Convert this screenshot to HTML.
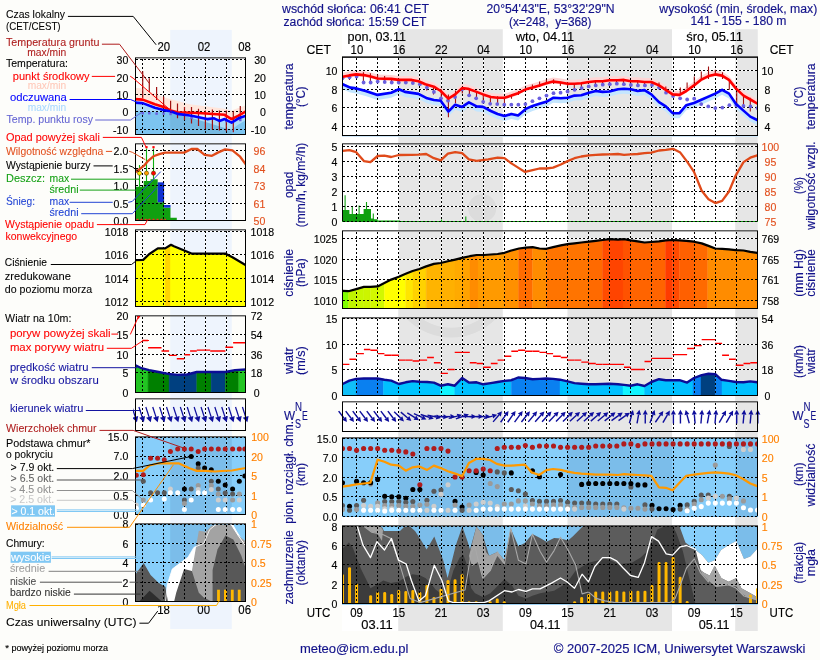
<!DOCTYPE html><html><head><meta charset="utf-8"><title>meteogram</title><style>html,body{margin:0;padding:0;background:#fdfdfa;overflow:hidden}svg{display:block}text{font-family:"Liberation Sans",sans-serif}</style></head><body>
<svg width="820" height="660" viewBox="0 0 820 660" font-family="'Liberation Sans', sans-serif">
<defs>
<clipPath id="cTemp"><rect x="342.5" y="56.5" width="415" height="79"/></clipPath>
<clipPath id="cPrec"><rect x="342.5" y="143.5" width="415" height="78"/></clipPath>
<clipPath id="cPres"><rect x="342.5" y="230.5" width="415" height="78"/></clipPath>
<clipPath id="cWind"><rect x="342.5" y="317.5" width="415" height="78"/></clipPath>
<clipPath id="cWdir"><rect x="342.5" y="401.5" width="415" height="30"/></clipPath>
<clipPath id="cVis"><rect x="342.5" y="437.5" width="415" height="79"/></clipPath>
<clipPath id="cCld"><rect x="342.5" y="525.5" width="415" height="78"/></clipPath>
<clipPath id="lTemp"><rect x="135.5" y="57.5" width="110" height="77"/></clipPath>
<clipPath id="lPrec"><rect x="135.5" y="143.5" width="110" height="77"/></clipPath>
<clipPath id="lPres"><rect x="135.5" y="229.5" width="110" height="77"/></clipPath>
<clipPath id="lWind"><rect x="135.5" y="315.5" width="110" height="77"/></clipPath>
<clipPath id="lWdir"><rect x="135.5" y="398.5" width="110" height="32"/></clipPath>
<clipPath id="lVis"><rect x="135.5" y="436.5" width="110" height="78"/></clipPath>
<clipPath id="lCld"><rect x="135.5" y="523.5" width="110" height="78"/></clipPath>
<clipPath id="lWdirW"><rect x="133" y="399" width="120" height="31"/></clipPath>
</defs>
<rect x="0" y="0" width="820" height="660" fill="#fdfdfa"/>
<rect x="342" y="29.2" width="416" height="601.8" fill="#ffffff"/>
<rect x="398.2" y="29.2" width="104.6" height="601.8" fill="#e6e6e6"/>
<rect x="567.4" y="29.2" width="104.6" height="601.8" fill="#e6e6e6"/>
<rect x="735.2" y="29.2" width="22.6" height="601.8" fill="#e6e6e6"/>
<rect x="170.2" y="29.9" width="61.6" height="599.1" fill="#eef4fd"/>
<clipPath id="wm"><rect x="398.2" y="140" width="104.6" height="290"/></clipPath>
<clipPath id="wm2"><rect x="398.2" y="318" width="104.6" height="80"/></clipPath>
<g clip-path="url(#wm)" fill="#000" opacity="0.045">
<circle cx="482.2" cy="208.2" r="14"/>
<path clip-path="url(#wm2)" d="M388.9 275.1 A62.4 62.4 0 0 0 513.7 275.1 L504 275.1 A52.7 52.7 0 0 1 398.6 275.1 Z"/>
</g>
<g clip-path="url(#cTemp)">
<path d="M356.5 57V135M377.5 57V135M398.5 57V135M419.5 57V135M441.5 57V135M462.5 57V135M483.5 57V135M504.5 57V135M525.5 57V135M546.5 57V135M567.5 57V135M588.5 57V135M609.5 57V135M630.5 57V135M651.5 57V135M673.5 57V135M694.5 57V135M715.5 57V135M736.5 57V135M343 70.5H757M343 89.5H757M343 107.5H757M343 126.5H757" stroke="#fff" stroke-width="1" fill="none" shape-rendering="crispEdges"/>
<polygon points="342.6,72.8 349.4,71.4 356.2,70.4 363.9,71.1 370.7,72.5 377.6,74.5 384.4,74.7 391.2,74.9 398.9,75.9 405.7,75.9 411.7,75.9 418.5,77.3 425.4,80.2 433.9,82.7 440.7,87 448.4,94.7 455.2,90.4 462.1,84.1 468,84.8 476.6,87.9 483.1,90.4 490.8,93 497.6,93.8 504.5,93.8 511.3,91.6 518.1,89.2 525.8,85.3 532.6,83.6 539.5,81.4 546.3,79.3 553.1,77.6 560.8,78.5 567.6,79.7 574.5,79.7 581.3,79.3 589,78 595.8,77.3 602.6,77.3 609.5,76.2 618,76.2 624,75.9 630.8,77.3 637.6,77.3 644.5,78 651.3,78 659,81.4 665.8,85.8 672.6,90.4 679.5,90.9 686.3,87 694,81.4 700.8,75.9 708.5,72.1 715.3,70.4 722.1,71.6 729,75.9 735.8,84.4 743.5,91.6 750.3,95.5 757.2,99.5 757.2,105.3 750.3,101.3 743.5,97.4 735.8,90.2 729,81.7 722.1,77.4 715.3,76.2 708.5,77.9 700.8,81.7 694,87.2 686.3,92.8 679.5,96.7 672.6,96.2 665.8,91.6 659,87.2 651.3,83.8 644.5,83.8 637.6,83.1 630.8,83.1 624,81.7 618,82 609.5,82 602.6,83.1 595.8,83.1 589,83.8 581.3,85.1 574.5,85.5 567.6,85.5 560.8,84.3 553.1,83.4 546.3,85.1 539.5,87.2 532.6,89.4 525.8,91.1 518.1,95 511.3,97.4 504.5,99.6 497.6,99.6 490.8,98.8 483.1,96.2 476.6,93.7 468,90.6 462.1,89.9 455.2,96.2 448.4,100.5 440.7,92.8 433.9,88.5 425.4,86 418.5,83.1 411.7,81.7 405.7,81.7 398.9,81.7 391.2,80.7 384.4,80.5 377.6,80.3 370.7,78.3 363.9,76.9 356.2,76.2 349.4,77.2 342.6,78.6" fill="#ffd6d6"/>
<polygon points="342.6,82.7 350.2,86.1 356.2,86.9 365.6,89.5 377.6,93.4 391.2,91.2 398.9,87.8 404.9,90.4 418.5,92.4 427.1,96.8 433.9,98.5 440.7,99.2 448.4,110 455.2,103.2 462.1,105.4 468.9,100.9 476.6,104.9 483.1,105.4 490.8,109.5 497.6,112.5 504.5,114.6 511.3,112.5 518.1,113.9 525.8,107.4 532.6,104.4 539.5,102.3 546.3,100.3 553.1,96.3 560.8,96.8 567.6,96.3 574.5,94.1 581.3,93.8 589,91.2 595.8,89.5 602.6,90.4 609.5,90 618,87.8 624,87.3 630.8,87.8 637.6,89.5 644.5,88.6 651.3,92.9 659,100.6 665.8,104.9 672.6,111.7 679.5,111.7 686.3,103.7 694,101.5 700.8,98.5 708.5,95.1 715.3,92.1 722.1,88.3 729,92.1 735.8,102.3 743.5,109.1 750.3,115.1 757.2,118.5 757.2,125 750.3,121.6 743.5,115.6 735.8,108.8 729,98.6 722.1,94.8 715.3,98.6 708.5,101.6 700.8,105 694,108 686.3,110.2 679.5,118.2 672.6,118.2 665.8,111.4 659,107.1 651.3,99.4 644.5,95.1 637.6,96 630.8,94.3 624,93.8 618,94.3 609.5,96.5 602.6,96.9 595.8,96 589,97.7 581.3,100.3 574.5,100.6 567.6,102.8 560.8,103.3 553.1,102.8 546.3,106.8 539.5,108.8 532.6,110.9 525.8,113.9 518.1,120.4 511.3,119 504.5,121.1 497.6,119 490.8,116 483.1,111.9 476.6,111.4 468.9,107.4 462.1,111.9 455.2,109.7 448.4,116.5 440.7,105.7 433.9,105 427.1,103.3 418.5,98.9 404.9,96.9 398.9,94.3 391.2,97.7 377.6,99.9 365.6,96 356.2,93.4 350.2,92.6 342.6,89.2" fill="#c4e6ff"/>
<path d="M356.5 58V135M377.5 58V135M398.5 58V135M419.5 58V135M441.5 58V135M462.5 58V135M483.5 58V135M504.5 58V135M525.5 58V135M546.5 58V135M567.5 58V135M588.5 58V135M609.5 58V135M630.5 58V135M651.5 58V135M673.5 58V135M694.5 58V135M715.5 58V135M736.5 58V135M343 70.5H757M343 89.5H757M343 107.5H757M343 126.5H757" stroke="#000" stroke-width="1" stroke-dasharray="2 2" fill="none" shape-rendering="crispEdges"/>
<line x1="349.5" y1="74.2" x2="349.5" y2="80" stroke="#a01010" stroke-width="1.1"/>
<line x1="363.4" y1="72.2" x2="363.4" y2="83" stroke="#a01010" stroke-width="1.1"/>
<line x1="370.4" y1="73.2" x2="370.4" y2="82.5" stroke="#a01010" stroke-width="1.1"/>
<line x1="377.6" y1="74.7" x2="377.6" y2="81.5" stroke="#a01010" stroke-width="1.1"/>
<line x1="384.6" y1="76.1" x2="384.6" y2="82.5" stroke="#a01010" stroke-width="1.1"/>
<line x1="391.5" y1="78.1" x2="391.5" y2="83" stroke="#a01010" stroke-width="1.1"/>
<line x1="412.7" y1="79.1" x2="412.7" y2="83" stroke="#a01010" stroke-width="1.1"/>
<line x1="426.7" y1="84.1" x2="426.7" y2="90.5" stroke="#a01010" stroke-width="1.1"/>
<line x1="433.5" y1="87.6" x2="433.5" y2="94.4" stroke="#a01010" stroke-width="1.1"/>
<line x1="441.3" y1="89.5" x2="441.3" y2="102.2" stroke="#a01010" stroke-width="1.1"/>
<line x1="448.4" y1="94.4" x2="448.4" y2="117.3" stroke="#a01010" stroke-width="1.1"/>
<line x1="455.5" y1="90.5" x2="455.5" y2="103.2" stroke="#a01010" stroke-width="1.1"/>
<line x1="462.3" y1="88.5" x2="462.3" y2="93.4" stroke="#a01010" stroke-width="1.1"/>
<line x1="469.4" y1="89.5" x2="469.4" y2="95.9" stroke="#a01010" stroke-width="1.1"/>
<line x1="476.5" y1="91.5" x2="476.5" y2="99.3" stroke="#a01010" stroke-width="1.1"/>
<line x1="483.3" y1="94.4" x2="483.3" y2="102.2" stroke="#a01010" stroke-width="1.1"/>
<line x1="490.4" y1="96.3" x2="490.4" y2="104.1" stroke="#a01010" stroke-width="1.1"/>
<line x1="497.6" y1="96.3" x2="497.6" y2="103.7" stroke="#a01010" stroke-width="1.1"/>
<line x1="504.4" y1="98.3" x2="504.4" y2="103.2" stroke="#a01010" stroke-width="1.1"/>
<line x1="511.5" y1="95.9" x2="511.5" y2="98.8" stroke="#a01010" stroke-width="1.1"/>
<line x1="518.5" y1="91" x2="518.5" y2="94.9" stroke="#a01010" stroke-width="1.1"/>
<line x1="532.4" y1="84.6" x2="532.4" y2="90" stroke="#a01010" stroke-width="1.1"/>
<line x1="539.6" y1="81.5" x2="539.6" y2="87.1" stroke="#a01010" stroke-width="1.1"/>
<line x1="546.4" y1="79.8" x2="546.4" y2="84.1" stroke="#a01010" stroke-width="1.1"/>
<line x1="553.6" y1="79.3" x2="553.6" y2="84.1" stroke="#a01010" stroke-width="1.1"/>
<line x1="560.4" y1="81.7" x2="560.4" y2="86.1" stroke="#a01010" stroke-width="1.1"/>
<line x1="567.6" y1="82.2" x2="567.6" y2="86.1" stroke="#a01010" stroke-width="1.1"/>
<line x1="574.3" y1="83" x2="574.3" y2="89.9" stroke="#a01010" stroke-width="1.1"/>
<line x1="581.4" y1="82.6" x2="581.4" y2="87.9" stroke="#a01010" stroke-width="1.1"/>
<line x1="595.4" y1="82.1" x2="595.4" y2="86" stroke="#a01010" stroke-width="1.1"/>
<line x1="602.6" y1="81.6" x2="602.6" y2="85" stroke="#a01010" stroke-width="1.1"/>
<line x1="616.5" y1="81.1" x2="616.5" y2="84.5" stroke="#a01010" stroke-width="1.1"/>
<line x1="623.5" y1="81.1" x2="623.5" y2="85" stroke="#a01010" stroke-width="1.1"/>
<line x1="637.7" y1="81.6" x2="637.7" y2="85.5" stroke="#a01010" stroke-width="1.1"/>
<line x1="644.5" y1="82.1" x2="644.5" y2="86.5" stroke="#a01010" stroke-width="1.1"/>
<line x1="659" y1="82.5" x2="659" y2="89.3" stroke="#a01010" stroke-width="1.1"/>
<line x1="665.8" y1="86.4" x2="665.8" y2="93.6" stroke="#a01010" stroke-width="1.1"/>
<line x1="680.3" y1="87.6" x2="680.3" y2="94.4" stroke="#a01010" stroke-width="1.1"/>
<line x1="687.1" y1="82.5" x2="687.1" y2="88.4" stroke="#a01010" stroke-width="1.1"/>
<line x1="694.3" y1="76.5" x2="694.3" y2="84.2" stroke="#a01010" stroke-width="1.1"/>
<line x1="701.3" y1="71.4" x2="701.3" y2="79.9" stroke="#a01010" stroke-width="1.1"/>
<line x1="708.5" y1="66.6" x2="708.5" y2="79" stroke="#a01010" stroke-width="1.1"/>
<line x1="715.3" y1="69.7" x2="715.3" y2="74.8" stroke="#a01010" stroke-width="1.1"/>
<line x1="722.5" y1="72.2" x2="722.5" y2="79" stroke="#a01010" stroke-width="1.1"/>
<line x1="729.3" y1="81.6" x2="729.3" y2="89.8" stroke="#a01010" stroke-width="1.1"/>
<line x1="736.7" y1="91.9" x2="736.7" y2="104.7" stroke="#a01010" stroke-width="1.1"/>
<line x1="743.5" y1="96.6" x2="743.5" y2="107.2" stroke="#a01010" stroke-width="1.1"/>
<line x1="750.3" y1="97.8" x2="750.3" y2="111.5" stroke="#a01010" stroke-width="1.1"/>
<circle cx="342.5" cy="78.2" r="1.9" fill="#6a5fe0"/>
<circle cx="349.53" cy="77.3" r="1.9" fill="#6a5fe0"/>
<circle cx="356.57" cy="76.5" r="1.9" fill="#6a5fe0"/>
<circle cx="363.6" cy="82.5" r="1.9" fill="#6a5fe0"/>
<circle cx="370.64" cy="82.5" r="1.9" fill="#6a5fe0"/>
<circle cx="377.67" cy="81.6" r="1.9" fill="#6a5fe0"/>
<circle cx="384.7" cy="82" r="1.9" fill="#6a5fe0"/>
<circle cx="391.74" cy="82.5" r="1.9" fill="#6a5fe0"/>
<circle cx="398.77" cy="82.5" r="1.9" fill="#6a5fe0"/>
<circle cx="405.81" cy="82.5" r="1.9" fill="#6a5fe0"/>
<circle cx="412.84" cy="83" r="1.9" fill="#6a5fe0"/>
<circle cx="419.87" cy="84.2" r="1.9" fill="#6a5fe0"/>
<circle cx="426.91" cy="87.6" r="1.9" fill="#6a5fe0"/>
<circle cx="433.94" cy="91.9" r="1.9" fill="#6a5fe0"/>
<circle cx="440.98" cy="98.3" r="1.9" fill="#6a5fe0"/>
<circle cx="448.01" cy="100.7" r="1.9" fill="#6a5fe0"/>
<circle cx="455.04" cy="97" r="1.9" fill="#6a5fe0"/>
<circle cx="462.08" cy="89.3" r="1.9" fill="#6a5fe0"/>
<circle cx="469.11" cy="95.3" r="1.9" fill="#6a5fe0"/>
<circle cx="476.15" cy="98.3" r="1.9" fill="#6a5fe0"/>
<circle cx="483.18" cy="101.8" r="1.9" fill="#6a5fe0"/>
<circle cx="490.21" cy="103.8" r="1.9" fill="#6a5fe0"/>
<circle cx="497.25" cy="104.1" r="1.9" fill="#6a5fe0"/>
<circle cx="504.28" cy="104.7" r="1.9" fill="#6a5fe0"/>
<circle cx="511.32" cy="104.7" r="1.9" fill="#6a5fe0"/>
<circle cx="518.35" cy="104.7" r="1.9" fill="#6a5fe0"/>
<circle cx="525.38" cy="104.1" r="1.9" fill="#6a5fe0"/>
<circle cx="532.42" cy="101.2" r="1.9" fill="#6a5fe0"/>
<circle cx="539.45" cy="98.3" r="1.9" fill="#6a5fe0"/>
<circle cx="546.49" cy="95.6" r="1.9" fill="#6a5fe0"/>
<circle cx="553.52" cy="93.2" r="1.9" fill="#6a5fe0"/>
<circle cx="560.55" cy="92.7" r="1.9" fill="#6a5fe0"/>
<circle cx="567.59" cy="91.5" r="1.9" fill="#6a5fe0"/>
<circle cx="574.62" cy="89.8" r="1.9" fill="#6a5fe0"/>
<circle cx="581.66" cy="88.1" r="1.9" fill="#6a5fe0"/>
<circle cx="588.69" cy="86.4" r="1.9" fill="#6a5fe0"/>
<circle cx="595.72" cy="85.4" r="1.9" fill="#6a5fe0"/>
<circle cx="602.76" cy="84.7" r="1.9" fill="#6a5fe0"/>
<circle cx="609.79" cy="84.2" r="1.9" fill="#6a5fe0"/>
<circle cx="616.83" cy="83.7" r="1.9" fill="#6a5fe0"/>
<circle cx="623.86" cy="84.2" r="1.9" fill="#6a5fe0"/>
<circle cx="630.89" cy="85" r="1.9" fill="#6a5fe0"/>
<circle cx="637.93" cy="85.4" r="1.9" fill="#6a5fe0"/>
<circle cx="644.96" cy="85.4" r="1.9" fill="#6a5fe0"/>
<circle cx="652" cy="85" r="1.9" fill="#6a5fe0"/>
<circle cx="659.03" cy="87.6" r="1.9" fill="#6a5fe0"/>
<circle cx="666.06" cy="92.7" r="1.9" fill="#6a5fe0"/>
<circle cx="673.1" cy="96.1" r="1.9" fill="#6a5fe0"/>
<circle cx="680.13" cy="98.3" r="1.9" fill="#6a5fe0"/>
<circle cx="687.17" cy="99.5" r="1.9" fill="#6a5fe0"/>
<circle cx="694.2" cy="98.7" r="1.9" fill="#6a5fe0"/>
<circle cx="701.23" cy="104.1" r="1.9" fill="#6a5fe0"/>
<circle cx="708.27" cy="106.4" r="1.9" fill="#6a5fe0"/>
<circle cx="715.3" cy="108.1" r="1.9" fill="#6a5fe0"/>
<circle cx="722.34" cy="107.6" r="1.9" fill="#6a5fe0"/>
<circle cx="729.37" cy="105.2" r="1.9" fill="#6a5fe0"/>
<circle cx="736.4" cy="105.5" r="1.9" fill="#6a5fe0"/>
<circle cx="743.44" cy="105.9" r="1.9" fill="#6a5fe0"/>
<circle cx="750.47" cy="106.4" r="1.9" fill="#6a5fe0"/>
<circle cx="757.51" cy="108.1" r="1.9" fill="#6a5fe0"/>
<polyline points="342.6,76.8 349.4,75.4 356.2,74.4 363.9,75.1 370.7,76.5 377.6,78.5 384.4,78.7 391.2,78.9 398.9,79.9 405.7,79.9 411.7,79.9 418.5,81.3 425.4,84.2 433.9,86.7 440.7,91 448.4,98.7 455.2,94.4 462.1,88.1 468,88.8 476.6,91.9 483.1,94.4 490.8,97 497.6,97.8 504.5,97.8 511.3,95.6 518.1,93.2 525.8,89.3 532.6,87.6 539.5,85.4 546.3,83.3 553.1,81.6 560.8,82.5 567.6,83.7 574.5,83.7 581.3,83.3 589,82 595.8,81.3 602.6,81.3 609.5,80.2 618,80.2 624,79.9 630.8,81.3 637.6,81.3 644.5,82 651.3,82 659,85.4 665.8,89.8 672.6,94.4 679.5,94.9 686.3,91 694,85.4 700.8,79.9 708.5,76.1 715.3,74.4 722.1,75.6 729,79.9 735.8,88.4 743.5,95.6 750.3,99.5 757.2,103.5" fill="none" stroke="#ff0000" stroke-width="2.6" stroke-linejoin="round" stroke-linecap="round"/>
<polyline points="342.6,84.2 350.2,87.6 356.2,88.4 365.6,91 377.6,94.9 391.2,92.7 398.9,89.3 404.9,91.9 418.5,93.9 427.1,98.3 433.9,100 440.7,100.7 448.4,111.5 455.2,104.7 462.1,106.9 468.9,102.4 476.6,106.4 483.1,106.9 490.8,111 497.6,114 504.5,116.1 511.3,114 518.1,115.4 525.8,108.9 532.6,105.9 539.5,103.8 546.3,101.8 553.1,97.8 560.8,98.3 567.6,97.8 574.5,95.6 581.3,95.3 589,92.7 595.8,91 602.6,91.9 609.5,91.5 618,89.3 624,88.8 630.8,89.3 637.6,91 644.5,90.1 651.3,94.4 659,102.1 665.8,106.4 672.6,113.2 679.5,113.2 686.3,105.2 694,103 700.8,100 708.5,96.6 715.3,93.6 722.1,89.8 729,93.6 735.8,103.8 743.5,110.6 750.3,116.6 757.2,120" fill="none" stroke="#0000ff" stroke-width="2.6" stroke-linejoin="round" stroke-linecap="round"/>
</g>
<g clip-path="url(#cPrec)">
<path d="M356.5 144V221M377.5 144V221M398.5 144V221M419.5 144V221M441.5 144V221M462.5 144V221M483.5 144V221M504.5 144V221M525.5 144V221M546.5 144V221M567.5 144V221M588.5 144V221M609.5 144V221M630.5 144V221M651.5 144V221M673.5 144V221M694.5 144V221M715.5 144V221M736.5 144V221M343 146.5H757M343 161.5H757M343 176.5H757M343 191.5H757M343 206.5H757" stroke="#fff" stroke-width="1" fill="none" shape-rendering="crispEdges"/>
<polygon points="342.5,221.5 342.5,210 349.4,210 349.4,214 356.6,214 356.6,214 363.6,214 363.6,208.9 371,208.9 371,218.5 373.5,218.5 373.5,219.3 377.6,219.3 377.6,220.6 400,220.6 400,221.5" fill="#10a010"/>
<line x1="345.1" y1="195.3" x2="345.1" y2="221" stroke="#10a010" stroke-width="1.1"/>
<line x1="352.3" y1="206.9" x2="352.3" y2="221" stroke="#10a010" stroke-width="1.1"/>
<line x1="359.1" y1="205.5" x2="359.1" y2="221" stroke="#10a010" stroke-width="1.1"/>
<line x1="366.5" y1="202" x2="366.5" y2="221" stroke="#10a010" stroke-width="1.1"/>
<line x1="373.3" y1="213.4" x2="373.3" y2="221" stroke="#10a010" stroke-width="1.1"/>
<line x1="465.8" y1="216.5" x2="465.8" y2="221" stroke="#10a010" stroke-width="1.1"/>
<line x1="441.5" y1="219.5" x2="441.5" y2="221" stroke="#10a010" stroke-width="1.1"/>
<path d="M356.5 145V221M377.5 145V221M398.5 145V221M419.5 145V221M441.5 145V221M462.5 145V221M483.5 145V221M504.5 145V221M525.5 145V221M546.5 145V221M567.5 145V221M588.5 145V221M609.5 145V221M630.5 145V221M651.5 145V221M673.5 145V221M694.5 145V221M715.5 145V221M736.5 145V221M343 146.5H757M343 161.5H757M343 176.5H757M343 191.5H757M343 206.5H757" stroke="#000" stroke-width="1" stroke-dasharray="2 2" fill="none" shape-rendering="crispEdges"/>
<polyline points="342.6,150.9 349.4,150.2 356.2,152.2 363.9,161.1 370.4,162.1 377.6,156 384.4,155.7 391.2,157 398.9,155 411.7,154.8 418.5,154.6 426.2,154 433.9,158.2 440.7,160.4 447.9,153.6 455.2,152.2 462.1,153.1 468.9,159.4 476.6,160.8 488.2,159.4 497.6,157.7 504.5,158.2 511.3,163.3 518.1,167.6 525,171.9 532.6,170.2 539.5,168.5 546.3,168.5 553.1,167.6 560.8,164.5 567.6,161.1 574.5,158.2 581.3,156.5 589,155.3 595.8,154.8 602.6,154.5 609.5,154.3 618,154 624,154.8 630.8,154.3 637.6,154 644.5,153.1 651.3,152.6 659,150.5 665.8,149.9 673,148.8 680.3,152.6 687.1,161.6 694,171.9 701.7,190.7 708.5,199.2 715.3,203.1 722.1,200.9 729,191.5 735.8,175.3 743.5,162.1 750.3,157.7 757.2,155.3" fill="none" stroke="#e04a1a" stroke-width="2.3" stroke-linejoin="round" stroke-linecap="round"/>
</g>
<g clip-path="url(#cPres)">
<path d="M356.5 231V308M377.5 231V308M398.5 231V308M419.5 231V308M441.5 231V308M462.5 231V308M483.5 231V308M504.5 231V308M525.5 231V308M546.5 231V308M567.5 231V308M588.5 231V308M609.5 231V308M630.5 231V308M651.5 231V308M673.5 231V308M694.5 231V308M715.5 231V308M736.5 231V308M343 238.5H757M343 259.5H757M343 279.5H757M343 300.5H757" stroke="#fff" stroke-width="1" fill="none" shape-rendering="crispEdges"/>
<polygon points="342.5,310 342.5,290.8 342.6,290.8 348.5,291.2 348.5,310" fill="#80ff00" stroke="#80ff00" stroke-width="0.4"/>
<polygon points="348.5,310 348.5,291.2 356.2,289.1 356.2,310" fill="#bff500" stroke="#bff500" stroke-width="0.4"/>
<polygon points="356.2,310 356.2,289.1 363.9,286.9 363.9,310" fill="#c8f700" stroke="#c8f700" stroke-width="0.4"/>
<polygon points="363.9,310 363.9,286.9 370.4,286.9 370.4,310" fill="#ccf500" stroke="#ccf500" stroke-width="0.4"/>
<polygon points="370.4,310 370.4,286.9 377.6,286.4 384.4,283 384.4,310" fill="#d2f800" stroke="#d2f800" stroke-width="0.4"/>
<polygon points="384.4,310 384.4,283 391.2,279.6 398.9,276.7 405.7,273.8 405.7,310" fill="#ffff00" stroke="#ffff00" stroke-width="0.4"/>
<polygon points="405.7,310 405.7,273.8 412.6,271 413,270.88 413,310" fill="#ffe600" stroke="#ffe600" stroke-width="0.4"/>
<polygon points="413,310 413,270.88 419.4,269 426.2,266.4 426.2,310" fill="#ffd200" stroke="#ffd200" stroke-width="0.4"/>
<polygon points="426.2,310 426.2,266.4 433.9,263.9 440.7,263 441,262.93 441,310" fill="#ffb400" stroke="#ffb400" stroke-width="0.4"/>
<polygon points="441,310 441,262.93 447.9,261.3 455,259.65 455,310" fill="#ffb000" stroke="#ffb000" stroke-width="0.4"/>
<polygon points="455,310 455,259.65 455.2,259.6 462,257.92 462,310" fill="#ffaa00" stroke="#ffaa00" stroke-width="0.4"/>
<polygon points="462,310 462,257.92 462.1,257.9 469.8,256.2 470,256.16 470,310" fill="#ffa200" stroke="#ffa200" stroke-width="0.4"/>
<polygon points="470,310 470,256.16 476.6,255 478,255 478,310" fill="#ff8c00" stroke="#ff8c00" stroke-width="0.4"/>
<polygon points="478,310 478,255 484,255 490.8,254.5 497.6,254 504.5,252.8 504.5,310" fill="#ff9a00" stroke="#ff9a00" stroke-width="0.4"/>
<polygon points="504.5,310 504.5,252.8 511.3,250.5 518.5,248.63 518.5,310" fill="#ff9000" stroke="#ff9000" stroke-width="0.4"/>
<polygon points="518.5,310 518.5,248.63 519,248.5 525.8,247.6 532.6,247.1 532.6,310" fill="#ff6c00" stroke="#ff6c00" stroke-width="0.4"/>
<polygon points="532.6,310 532.6,247.1 539.5,248.5 546.3,248.8 546.3,310" fill="#ff8c00" stroke="#ff8c00" stroke-width="0.4"/>
<polygon points="546.3,310 546.3,248.8 553.1,247.1 560.8,245.4 567.6,244.2 574.5,243.4 581.3,242.5 589,241.7 589,310" fill="#ff7400" stroke="#ff7400" stroke-width="0.4"/>
<polygon points="589,310 589,241.7 595.8,240.8 602.5,240.01 602.5,310" fill="#ff6a00" stroke="#ff6a00" stroke-width="0.4"/>
<polygon points="602.5,310 602.5,240.01 602.6,240 609.5,239.1 609.5,310" fill="#ff4c00" stroke="#ff4c00" stroke-width="0.4"/>
<polygon points="609.5,310 609.5,239.1 618,239.6 623,239.18 623,310" fill="#ff4400" stroke="#ff4400" stroke-width="0.4"/>
<polygon points="623,310 623,239.18 624,239.1 630.8,240.3 631,240.33 631,310" fill="#ff5200" stroke="#ff5200" stroke-width="0.4"/>
<polygon points="631,310 631,240.33 637.6,241.3 644.5,242.5 651.3,242 659,241.3 665.5,240.34 665.5,310" fill="#ff6400" stroke="#ff6400" stroke-width="0.4"/>
<polygon points="665.5,310 665.5,240.34 665.8,240.3 672.6,240 672.6,310" fill="#ff3c00" stroke="#ff3c00" stroke-width="0.4"/>
<polygon points="672.6,310 672.6,240 679.5,240.3 679.5,310" fill="#ff4a00" stroke="#ff4a00" stroke-width="0.4"/>
<polygon points="679.5,310 679.5,240.3 686.3,240.8 694,241.7 694,310" fill="#ff6000" stroke="#ff6000" stroke-width="0.4"/>
<polygon points="694,310 694,241.7 701.7,243.4 707.8,245.64 707.8,310" fill="#ff6a00" stroke="#ff6a00" stroke-width="0.4"/>
<polygon points="707.8,310 707.8,245.64 708.5,245.9 715.3,248.5 722.1,248.8 729,249.3 735.8,250.2 743.5,250.5 750.3,251.9 757.2,252.8 758,252.8 758,310" fill="#ff8c00" stroke="#ff8c00" stroke-width="0.4"/>
<path d="M356.5 232V308M377.5 232V308M398.5 232V308M419.5 232V308M441.5 232V308M462.5 232V308M483.5 232V308M504.5 232V308M525.5 232V308M546.5 232V308M567.5 232V308M588.5 232V308M609.5 232V308M630.5 232V308M651.5 232V308M673.5 232V308M694.5 232V308M715.5 232V308M736.5 232V308M343 238.5H757M343 259.5H757M343 279.5H757M343 300.5H757" stroke="#000" stroke-width="1" stroke-dasharray="2 2" fill="none" shape-rendering="crispEdges"/>
<polyline points="342.6,290.8 348.5,291.2 356.2,289.1 363.9,286.9 370.4,286.9 377.6,286.4 384.4,283 391.2,279.6 398.9,276.7 405.7,273.8 412.6,271 419.4,269 426.2,266.4 433.9,263.9 440.7,263 447.9,261.3 455.2,259.6 462.1,257.9 469.8,256.2 476.6,255 484,255 490.8,254.5 497.6,254 504.5,252.8 511.3,250.5 519,248.5 525.8,247.6 532.6,247.1 539.5,248.5 546.3,248.8 553.1,247.1 560.8,245.4 567.6,244.2 574.5,243.4 581.3,242.5 589,241.7 595.8,240.8 602.6,240 609.5,239.1 618,239.6 624,239.1 630.8,240.3 637.6,241.3 644.5,242.5 651.3,242 659,241.3 665.8,240.3 672.6,240 679.5,240.3 686.3,240.8 694,241.7 701.7,243.4 708.5,245.9 715.3,248.5 722.1,248.8 729,249.3 735.8,250.2 743.5,250.5 750.3,251.9 757.2,252.8" fill="none" stroke="#000" stroke-width="2.2" stroke-linejoin="round" stroke-linecap="round"/>
</g>
<g clip-path="url(#cWind)">
<path d="M356.5 318V395M377.5 318V395M398.5 318V395M419.5 318V395M441.5 318V395M462.5 318V395M483.5 318V395M504.5 318V395M525.5 318V395M546.5 318V395M567.5 318V395M588.5 318V395M609.5 318V395M630.5 318V395M651.5 318V395M673.5 318V395M694.5 318V395M715.5 318V395M736.5 318V395M343 318.5H757M343 344.5H757M343 369.5H757" stroke="#fff" stroke-width="1" fill="none" shape-rendering="crispEdges"/>
<polygon points="342.5,397 342.5,384 342.6,384 349.4,380.6 356.2,378.9 356.4,378.89 356.4,397" fill="#10bff8" stroke="#10bff8" stroke-width="0.4"/>
<polygon points="356.4,397 356.4,378.89 363.9,378.5 370.7,378.5 377.6,378.5 383.5,379.54 383.5,397" fill="#0a80f0" stroke="#0a80f0" stroke-width="0.4"/>
<polygon points="383.5,397 383.5,379.54 384.4,379.7 391.2,380.6 398.9,384 399,383.98 399,397" fill="#00c0ff" stroke="#00c0ff" stroke-width="0.4"/>
<polygon points="399,397 399,383.98 405.7,382.3 412.6,381.1 419.4,381.8 427.1,382 433.9,382.6 440.7,385.7 440.7,397" fill="#00c4ff" stroke="#00c4ff" stroke-width="0.4"/>
<polygon points="440.7,397 440.7,385.7 447.9,384.3 454.7,385.7 454.7,397" fill="#10f4ff" stroke="#10f4ff" stroke-width="0.4"/>
<polygon points="454.7,397 454.7,385.7 462.1,378 468.9,382.6 476.6,382.3 483.1,384.3 490.8,383.1 497.6,382 504.5,380.9 511.3,380.2 511.3,397" fill="#00c0ff" stroke="#00c0ff" stroke-width="0.4"/>
<polygon points="511.3,397 511.3,380.2 518.1,377.5 525,378 532.6,379.2 539.5,378.9 546.3,378.5 553.1,378.9 560,379.7 560,397" fill="#0a80f0" stroke="#0a80f0" stroke-width="0.4"/>
<polygon points="560,397 560,379.7 567.6,381.4 574.5,383.1 581.3,383.7 589,384.3 595.8,384.3 602.6,384 609.5,383.7 618,384.3 623,384.8 623,397" fill="#00c0ff" stroke="#00c0ff" stroke-width="0.4"/>
<polygon points="623,397 623,384.8 624,384.9 630.8,385.7 637.6,384.3 644.5,386 644.5,397" fill="#10f4ff" stroke="#10f4ff" stroke-width="0.4"/>
<polygon points="644.5,397 644.5,386 651.3,382 659,379.2 665.8,380.2 672.6,380.2 679.5,380.2 687.1,382.6 693,378.67 693,397" fill="#00c0ff" stroke="#00c0ff" stroke-width="0.4"/>
<polygon points="693,397 693,378.67 694,378 701,375.36 701,397" fill="#0a80f0" stroke="#0a80f0" stroke-width="0.4"/>
<polygon points="701,397 701,375.36 701.7,375.1 708.5,373.8 715.3,374.1 715.3,397" fill="#004080" stroke="#004080" stroke-width="0.4"/>
<polygon points="715.3,397 715.3,374.1 721.3,379.7 722,379.81 722,397" fill="#0a80f0" stroke="#0a80f0" stroke-width="0.4"/>
<polygon points="722,397 722,379.81 729,380.9 735.8,382 743.5,382.3 750.3,381.4 757.2,382.3 758,382.3 758,397" fill="#00c0ff" stroke="#00c0ff" stroke-width="0.4"/>
<path d="M356.5 319V395M377.5 319V395M398.5 319V395M419.5 319V395M441.5 319V395M462.5 319V395M483.5 319V395M504.5 319V395M525.5 319V395M546.5 319V395M567.5 319V395M588.5 319V395M609.5 319V395M630.5 319V395M651.5 319V395M673.5 319V395M694.5 319V395M715.5 319V395M736.5 319V395M343 318.5H757M343 344.5H757M343 369.5H757" stroke="#000" stroke-width="1" stroke-dasharray="2 2" fill="none" shape-rendering="crispEdges"/>
<line x1="342.5" y1="364.4" x2="349.4" y2="364.4" stroke="#ff0000" stroke-width="1.4"/>
<line x1="349.4" y1="359.2" x2="356.2" y2="359.2" stroke="#ff0000" stroke-width="1.4"/>
<line x1="356.2" y1="353.6" x2="363.9" y2="353.6" stroke="#ff0000" stroke-width="1.4"/>
<line x1="363.9" y1="349.5" x2="370.4" y2="349.5" stroke="#ff0000" stroke-width="1.4"/>
<line x1="370.4" y1="350.2" x2="377.6" y2="350.2" stroke="#ff0000" stroke-width="1.4"/>
<line x1="377.6" y1="353.6" x2="384.4" y2="353.6" stroke="#ff0000" stroke-width="1.4"/>
<line x1="384.4" y1="355.3" x2="391.2" y2="355.3" stroke="#ff0000" stroke-width="1.4"/>
<line x1="391.2" y1="355.3" x2="398.9" y2="355.3" stroke="#ff0000" stroke-width="1.4"/>
<line x1="398.9" y1="360.1" x2="405.7" y2="360.1" stroke="#ff0000" stroke-width="1.4"/>
<line x1="405.7" y1="360.1" x2="412.6" y2="360.1" stroke="#ff0000" stroke-width="1.4"/>
<line x1="412.6" y1="361" x2="419.4" y2="361" stroke="#ff0000" stroke-width="1.4"/>
<line x1="419.4" y1="360.1" x2="427.1" y2="360.1" stroke="#ff0000" stroke-width="1.4"/>
<line x1="427.1" y1="357.5" x2="433.9" y2="357.5" stroke="#ff0000" stroke-width="1.4"/>
<line x1="433.9" y1="362.7" x2="440.7" y2="362.7" stroke="#ff0000" stroke-width="1.4"/>
<line x1="440.7" y1="373.4" x2="447.9" y2="373.4" stroke="#ff0000" stroke-width="1.4"/>
<line x1="447.9" y1="369.5" x2="454.7" y2="369.5" stroke="#ff0000" stroke-width="1.4"/>
<line x1="454.7" y1="352.4" x2="462.1" y2="352.4" stroke="#ff0000" stroke-width="1.4"/>
<line x1="462.1" y1="352.4" x2="469.8" y2="352.4" stroke="#ff0000" stroke-width="1.4"/>
<line x1="469.8" y1="362.7" x2="476.6" y2="362.7" stroke="#ff0000" stroke-width="1.4"/>
<line x1="476.6" y1="363.5" x2="483.1" y2="363.5" stroke="#ff0000" stroke-width="1.4"/>
<line x1="483.1" y1="367.3" x2="490.8" y2="367.3" stroke="#ff0000" stroke-width="1.4"/>
<line x1="490.8" y1="363.5" x2="497.6" y2="363.5" stroke="#ff0000" stroke-width="1.4"/>
<line x1="497.6" y1="360.1" x2="504.5" y2="360.1" stroke="#ff0000" stroke-width="1.4"/>
<line x1="504.5" y1="356.3" x2="511.3" y2="356.3" stroke="#ff0000" stroke-width="1.4"/>
<line x1="511.3" y1="351.2" x2="518.1" y2="351.2" stroke="#ff0000" stroke-width="1.4"/>
<line x1="518.1" y1="350.2" x2="525" y2="350.2" stroke="#ff0000" stroke-width="1.4"/>
<line x1="525" y1="351.2" x2="532.6" y2="351.2" stroke="#ff0000" stroke-width="1.4"/>
<line x1="532.6" y1="351.2" x2="539.5" y2="351.2" stroke="#ff0000" stroke-width="1.4"/>
<line x1="539.5" y1="352.4" x2="546.3" y2="352.4" stroke="#ff0000" stroke-width="1.4"/>
<line x1="546.3" y1="353.6" x2="553.1" y2="353.6" stroke="#ff0000" stroke-width="1.4"/>
<line x1="553.1" y1="356.3" x2="560.8" y2="356.3" stroke="#ff0000" stroke-width="1.4"/>
<line x1="560.8" y1="357.5" x2="567.6" y2="357.5" stroke="#ff0000" stroke-width="1.4"/>
<line x1="567.6" y1="360.1" x2="574.5" y2="360.1" stroke="#ff0000" stroke-width="1.4"/>
<line x1="574.5" y1="360.1" x2="581.3" y2="360.1" stroke="#ff0000" stroke-width="1.4"/>
<line x1="581.3" y1="362.1" x2="589" y2="362.1" stroke="#ff0000" stroke-width="1.4"/>
<line x1="589" y1="363.5" x2="595.8" y2="363.5" stroke="#ff0000" stroke-width="1.4"/>
<line x1="595.8" y1="364.4" x2="602.6" y2="364.4" stroke="#ff0000" stroke-width="1.4"/>
<line x1="602.6" y1="364.4" x2="609.5" y2="364.4" stroke="#ff0000" stroke-width="1.4"/>
<line x1="609.5" y1="364.4" x2="618" y2="364.4" stroke="#ff0000" stroke-width="1.4"/>
<line x1="618" y1="364.4" x2="624" y2="364.4" stroke="#ff0000" stroke-width="1.4"/>
<line x1="624" y1="367.3" x2="630.8" y2="367.3" stroke="#ff0000" stroke-width="1.4"/>
<line x1="630.8" y1="369.5" x2="644.5" y2="369.5" stroke="#ff0000" stroke-width="1.4"/>
<line x1="644.5" y1="361.5" x2="651.3" y2="361.5" stroke="#ff0000" stroke-width="1.4"/>
<line x1="651.3" y1="358.4" x2="672.6" y2="358.4" stroke="#ff0000" stroke-width="1.4"/>
<line x1="672.6" y1="354.6" x2="687.1" y2="354.6" stroke="#ff0000" stroke-width="1.4"/>
<line x1="687.1" y1="348.5" x2="694" y2="348.5" stroke="#ff0000" stroke-width="1.4"/>
<line x1="694" y1="345.6" x2="701.7" y2="345.6" stroke="#ff0000" stroke-width="1.4"/>
<line x1="701.7" y1="339.6" x2="715.3" y2="339.6" stroke="#ff0000" stroke-width="1.4"/>
<line x1="715.3" y1="343.4" x2="722.1" y2="343.4" stroke="#ff0000" stroke-width="1.4"/>
<line x1="722.1" y1="355.3" x2="729" y2="355.3" stroke="#ff0000" stroke-width="1.4"/>
<line x1="729" y1="359.2" x2="735.8" y2="359.2" stroke="#ff0000" stroke-width="1.4"/>
<line x1="735.8" y1="365.2" x2="743.5" y2="365.2" stroke="#ff0000" stroke-width="1.4"/>
<line x1="743.5" y1="363.5" x2="750.3" y2="363.5" stroke="#ff0000" stroke-width="1.4"/>
<line x1="750.3" y1="362.7" x2="757.5" y2="362.7" stroke="#ff0000" stroke-width="1.4"/>
<polyline points="342.6,384 349.4,380.6 356.2,378.9 363.9,378.5 370.7,378.5 377.6,378.5 384.4,379.7 391.2,380.6 398.9,384 405.7,382.3 412.6,381.1 419.4,381.8 427.1,382 433.9,382.6 440.7,385.7 447.9,384.3 454.7,385.7 462.1,378 468.9,382.6 476.6,382.3 483.1,384.3 490.8,383.1 497.6,382 504.5,380.9 511.3,380.2 518.1,377.5 525,378 532.6,379.2 539.5,378.9 546.3,378.5 553.1,378.9 560,379.7 567.6,381.4 574.5,383.1 581.3,383.7 589,384.3 595.8,384.3 602.6,384 609.5,383.7 618,384.3 624,384.9 630.8,385.7 637.6,384.3 644.5,386 651.3,382 659,379.2 665.8,380.2 672.6,380.2 679.5,380.2 687.1,382.6 694,378 701.7,375.1 708.5,373.8 715.3,374.1 721.3,379.7 729,380.9 735.8,382 743.5,382.3 750.3,381.4 757.2,382.3" fill="none" stroke="#0c0c96" stroke-width="2.4" stroke-linejoin="round" stroke-linecap="round"/>
</g>
<g clip-path="url(#cWdir)">
<path d="M356.5 402V431M377.5 402V431M398.5 402V431M419.5 402V431M441.5 402V431M462.5 402V431M483.5 402V431M504.5 402V431M525.5 402V431M546.5 402V431M567.5 402V431M588.5 402V431M609.5 402V431M630.5 402V431M651.5 402V431M673.5 402V431M694.5 402V431M715.5 402V431M736.5 402V431" stroke="#fff" stroke-width="1" fill="none" shape-rendering="crispEdges"/>
<path d="M356.5 403V431M377.5 403V431M398.5 403V431M419.5 403V431M441.5 403V431M462.5 403V431M483.5 403V431M504.5 403V431M525.5 403V431M546.5 403V431M567.5 403V431M588.5 403V431M609.5 403V431M630.5 403V431M651.5 403V431M673.5 403V431M694.5 403V431M715.5 403V431M736.5 403V431" stroke="#000" stroke-width="1" stroke-dasharray="2 2" fill="none" shape-rendering="crispEdges"/>
</g>
<line x1="338.65" y1="411.09" x2="344.06" y2="418.28" stroke="#0e0e9c" stroke-width="1.4"/>
<polygon points="346.95,422.11 342.07,419.78 346.06,416.77" fill="#0e0e9c"/>
<line x1="345.68" y1="411.09" x2="351.1" y2="418.28" stroke="#0e0e9c" stroke-width="1.4"/>
<polygon points="353.99,422.11 349.1,419.78 353.09,416.77" fill="#0e0e9c"/>
<line x1="352.72" y1="411.09" x2="358.13" y2="418.28" stroke="#0e0e9c" stroke-width="1.4"/>
<polygon points="361.02,422.11 356.14,419.78 360.13,416.77" fill="#0e0e9c"/>
<line x1="359.75" y1="411.09" x2="365.17" y2="418.28" stroke="#0e0e9c" stroke-width="1.4"/>
<polygon points="368.05,422.11 363.17,419.78 367.16,416.77" fill="#0e0e9c"/>
<line x1="366.78" y1="411.09" x2="372.2" y2="418.28" stroke="#0e0e9c" stroke-width="1.4"/>
<polygon points="375.09,422.11 370.2,419.78 374.2,416.77" fill="#0e0e9c"/>
<line x1="373.82" y1="411.09" x2="379.23" y2="418.28" stroke="#0e0e9c" stroke-width="1.4"/>
<polygon points="382.12,422.11 377.24,419.78 381.23,416.77" fill="#0e0e9c"/>
<line x1="380.85" y1="411.09" x2="386.27" y2="418.28" stroke="#0e0e9c" stroke-width="1.4"/>
<polygon points="389.16,422.11 384.27,419.78 388.26,416.77" fill="#0e0e9c"/>
<line x1="387.89" y1="411.09" x2="393.3" y2="418.28" stroke="#0e0e9c" stroke-width="1.4"/>
<polygon points="396.19,422.11 391.31,419.78 395.3,416.77" fill="#0e0e9c"/>
<line x1="394.19" y1="411.72" x2="400.56" y2="418.08" stroke="#0e0e9c" stroke-width="1.4"/>
<polygon points="403.95,421.48 398.79,419.85 402.32,416.32" fill="#0e0e9c"/>
<line x1="400.82" y1="412.16" x2="407.71" y2="417.95" stroke="#0e0e9c" stroke-width="1.4"/>
<polygon points="411.39,421.04 406.11,419.86 409.32,416.03" fill="#0e0e9c"/>
<line x1="407.29" y1="412.94" x2="414.92" y2="417.71" stroke="#0e0e9c" stroke-width="1.4"/>
<polygon points="418.99,420.26 413.6,419.83 416.25,415.59" fill="#0e0e9c"/>
<line x1="413.92" y1="413.68" x2="422.08" y2="417.49" stroke="#0e0e9c" stroke-width="1.4"/>
<polygon points="426.43,419.52 421.02,419.75 423.13,415.22" fill="#0e0e9c"/>
<line x1="420.65" y1="414.47" x2="429.21" y2="417.25" stroke="#0e0e9c" stroke-width="1.4"/>
<polygon points="433.77,418.73 428.43,419.63 429.98,414.87" fill="#0e0e9c"/>
<line x1="427.49" y1="415.17" x2="436.3" y2="417.04" stroke="#0e0e9c" stroke-width="1.4"/>
<polygon points="440.99,418.03 435.78,419.48 436.82,414.59" fill="#0e0e9c"/>
<line x1="434.41" y1="415.88" x2="443.36" y2="416.82" stroke="#0e0e9c" stroke-width="1.4"/>
<polygon points="448.14,417.32 443.1,419.31 443.63,414.33" fill="#0e0e9c"/>
<line x1="441.41" y1="416.6" x2="450.41" y2="416.6" stroke="#0e0e9c" stroke-width="1.4"/>
<polygon points="455.21,416.6 450.41,419.1 450.41,414.1" fill="#0e0e9c"/>
<line x1="448.68" y1="418.39" x2="457.37" y2="416.06" stroke="#0e0e9c" stroke-width="1.4"/>
<polygon points="462.01,414.81 458.02,418.47 456.73,413.64" fill="#0e0e9c"/>
<line x1="455.89" y1="418.96" x2="464.35" y2="415.88" stroke="#0e0e9c" stroke-width="1.4"/>
<polygon points="468.86,414.24 465.21,418.23 463.5,413.53" fill="#0e0e9c"/>
<line x1="462.51" y1="416.6" x2="471.51" y2="416.6" stroke="#0e0e9c" stroke-width="1.4"/>
<polygon points="476.31,416.6 471.51,419.1 471.51,414.1" fill="#0e0e9c"/>
<line x1="469.55" y1="416.6" x2="478.55" y2="416.6" stroke="#0e0e9c" stroke-width="1.4"/>
<polygon points="483.35,416.6 478.55,419.1 478.55,414.1" fill="#0e0e9c"/>
<line x1="476.58" y1="416.6" x2="485.58" y2="416.6" stroke="#0e0e9c" stroke-width="1.4"/>
<polygon points="490.38,416.6 485.58,419.1 485.58,414.1" fill="#0e0e9c"/>
<line x1="483.85" y1="418.39" x2="492.54" y2="416.06" stroke="#0e0e9c" stroke-width="1.4"/>
<polygon points="497.18,414.81 493.19,418.47 491.9,413.64" fill="#0e0e9c"/>
<line x1="493.11" y1="421.89" x2="498.9" y2="414.99" stroke="#0e0e9c" stroke-width="1.4"/>
<polygon points="501.98,411.31 500.81,416.6 496.98,413.38" fill="#0e0e9c"/>
<line x1="500.62" y1="422.25" x2="505.79" y2="414.88" stroke="#0e0e9c" stroke-width="1.4"/>
<polygon points="508.54,410.95 507.83,416.31 503.74,413.45" fill="#0e0e9c"/>
<line x1="507.66" y1="422.25" x2="512.82" y2="414.88" stroke="#0e0e9c" stroke-width="1.4"/>
<polygon points="515.57,410.95 514.87,416.31 510.77,413.45" fill="#0e0e9c"/>
<line x1="514.59" y1="422.18" x2="519.88" y2="414.9" stroke="#0e0e9c" stroke-width="1.4"/>
<polygon points="522.71,411.02 521.91,416.37 517.86,413.43" fill="#0e0e9c"/>
<line x1="521.44" y1="422.04" x2="526.98" y2="414.95" stroke="#0e0e9c" stroke-width="1.4"/>
<polygon points="529.93,411.16 528.95,416.48 525.01,413.41" fill="#0e0e9c"/>
<line x1="528.28" y1="421.89" x2="534.07" y2="414.99" stroke="#0e0e9c" stroke-width="1.4"/>
<polygon points="537.15,411.31 535.98,416.6 532.15,413.38" fill="#0e0e9c"/>
<line x1="535.13" y1="421.73" x2="541.16" y2="415.04" stroke="#0e0e9c" stroke-width="1.4"/>
<polygon points="544.37,411.47 543.02,416.71 539.3,413.37" fill="#0e0e9c"/>
<line x1="542.08" y1="421.65" x2="548.22" y2="415.06" stroke="#0e0e9c" stroke-width="1.4"/>
<polygon points="551.49,411.55 550.05,416.77 546.39,413.36" fill="#0e0e9c"/>
<line x1="549.03" y1="421.56" x2="555.28" y2="415.09" stroke="#0e0e9c" stroke-width="1.4"/>
<polygon points="558.61,411.64 557.08,416.83 553.48,413.35" fill="#0e0e9c"/>
<line x1="555.97" y1="421.48" x2="562.34" y2="415.12" stroke="#0e0e9c" stroke-width="1.4"/>
<polygon points="565.73,411.72 564.11,416.88 560.57,413.35" fill="#0e0e9c"/>
<line x1="562.92" y1="421.39" x2="569.4" y2="415.14" stroke="#0e0e9c" stroke-width="1.4"/>
<polygon points="572.85,411.81 571.14,416.94 567.66,413.34" fill="#0e0e9c"/>
<line x1="569.88" y1="421.31" x2="576.46" y2="415.17" stroke="#0e0e9c" stroke-width="1.4"/>
<polygon points="579.97,411.89 578.16,417 574.75,413.34" fill="#0e0e9c"/>
<line x1="576.83" y1="421.22" x2="583.52" y2="415.19" stroke="#0e0e9c" stroke-width="1.4"/>
<polygon points="587.08,411.98 585.19,417.05 581.84,413.34" fill="#0e0e9c"/>
<line x1="583.86" y1="421.22" x2="590.55" y2="415.19" stroke="#0e0e9c" stroke-width="1.4"/>
<polygon points="594.12,411.98 592.22,417.05 588.88,413.34" fill="#0e0e9c"/>
<line x1="590.82" y1="421.13" x2="597.61" y2="415.22" stroke="#0e0e9c" stroke-width="1.4"/>
<polygon points="601.23,412.07 599.25,417.11 595.97,413.34" fill="#0e0e9c"/>
<line x1="597.77" y1="421.04" x2="604.67" y2="415.25" stroke="#0e0e9c" stroke-width="1.4"/>
<polygon points="608.34,412.16 606.27,417.17 603.06,413.34" fill="#0e0e9c"/>
<line x1="604.65" y1="420.85" x2="611.75" y2="415.31" stroke="#0e0e9c" stroke-width="1.4"/>
<polygon points="615.53,412.35 613.29,417.28 610.21,413.34" fill="#0e0e9c"/>
<line x1="611.54" y1="420.66" x2="618.82" y2="415.37" stroke="#0e0e9c" stroke-width="1.4"/>
<polygon points="622.71,412.54 620.29,417.39 617.36,413.34" fill="#0e0e9c"/>
<line x1="618.51" y1="420.56" x2="625.88" y2="415.4" stroke="#0e0e9c" stroke-width="1.4"/>
<polygon points="629.81,412.64 627.31,417.44 624.45,413.35" fill="#0e0e9c"/>
<line x1="629.41" y1="423.26" x2="631.74" y2="414.57" stroke="#0e0e9c" stroke-width="1.4"/>
<polygon points="632.98,409.94 634.15,415.22 629.32,413.92" fill="#0e0e9c"/>
<line x1="637.03" y1="423.4" x2="638.59" y2="414.53" stroke="#0e0e9c" stroke-width="1.4"/>
<polygon points="639.43,409.8 641.05,414.97 636.13,414.1" fill="#0e0e9c"/>
<line x1="645.26" y1="423.5" x2="645.26" y2="414.5" stroke="#0e0e9c" stroke-width="1.4"/>
<polygon points="645.26,409.7 647.76,414.5 642.76,414.5" fill="#0e0e9c"/>
<line x1="649.94" y1="423.08" x2="653.01" y2="414.63" stroke="#0e0e9c" stroke-width="1.4"/>
<polygon points="654.66,410.12 655.36,415.48 650.67,413.77" fill="#0e0e9c"/>
<line x1="655.37" y1="422.25" x2="660.53" y2="414.88" stroke="#0e0e9c" stroke-width="1.4"/>
<polygon points="663.29,410.95 662.58,416.31 658.49,413.45" fill="#0e0e9c"/>
<line x1="662.91" y1="422.58" x2="667.41" y2="414.78" stroke="#0e0e9c" stroke-width="1.4"/>
<polygon points="669.81,410.62 669.58,416.03 665.25,413.53" fill="#0e0e9c"/>
<line x1="673.4" y1="423.5" x2="673.4" y2="414.5" stroke="#0e0e9c" stroke-width="1.4"/>
<polygon points="673.4,409.7 675.9,414.5 670.9,414.5" fill="#0e0e9c"/>
<line x1="680.43" y1="423.5" x2="680.43" y2="414.5" stroke="#0e0e9c" stroke-width="1.4"/>
<polygon points="680.43,409.7 682.93,414.5 677.93,414.5" fill="#0e0e9c"/>
<line x1="689.25" y1="423.26" x2="686.92" y2="414.57" stroke="#0e0e9c" stroke-width="1.4"/>
<polygon points="685.68,409.94 689.34,413.92 684.51,415.22" fill="#0e0e9c"/>
<line x1="695.1" y1="423.47" x2="694.32" y2="414.51" stroke="#0e0e9c" stroke-width="1.4"/>
<polygon points="693.9,409.73 696.81,414.29 691.83,414.73" fill="#0e0e9c"/>
<line x1="700.93" y1="423.47" x2="701.72" y2="414.51" stroke="#0e0e9c" stroke-width="1.4"/>
<polygon points="702.14,409.73 704.21,414.73 699.23,414.29" fill="#0e0e9c"/>
<line x1="707.37" y1="423.4" x2="708.93" y2="414.53" stroke="#0e0e9c" stroke-width="1.4"/>
<polygon points="709.77,409.8 711.39,414.97 706.47,414.1" fill="#0e0e9c"/>
<line x1="715" y1="423.47" x2="715.79" y2="414.51" stroke="#0e0e9c" stroke-width="1.4"/>
<polygon points="716.2,409.73 718.28,414.73 713.29,414.29" fill="#0e0e9c"/>
<line x1="719.19" y1="422.58" x2="723.69" y2="414.78" stroke="#0e0e9c" stroke-width="1.4"/>
<polygon points="726.09,410.62 725.85,416.03 721.52,413.53" fill="#0e0e9c"/>
<line x1="726.22" y1="422.58" x2="730.72" y2="414.78" stroke="#0e0e9c" stroke-width="1.4"/>
<polygon points="733.12,410.62 732.89,416.03 728.55,413.53" fill="#0e0e9c"/>
<line x1="736.7" y1="423.5" x2="736.7" y2="414.5" stroke="#0e0e9c" stroke-width="1.4"/>
<polygon points="736.7,409.7 739.2,414.5 734.2,414.5" fill="#0e0e9c"/>
<line x1="743.14" y1="423.47" x2="743.92" y2="414.51" stroke="#0e0e9c" stroke-width="1.4"/>
<polygon points="744.34,409.73 746.41,414.73 741.43,414.29" fill="#0e0e9c"/>
<line x1="750.17" y1="423.47" x2="750.96" y2="414.51" stroke="#0e0e9c" stroke-width="1.4"/>
<polygon points="751.37,409.73 753.45,414.73 748.46,414.29" fill="#0e0e9c"/>
<line x1="757.81" y1="423.5" x2="757.81" y2="414.5" stroke="#0e0e9c" stroke-width="1.4"/>
<polygon points="757.81,409.7 760.31,414.5 755.31,414.5" fill="#0e0e9c"/>
<g clip-path="url(#cVis)">
<rect x="342.5" y="437.5" width="415" height="79" fill="#87cefa"/>
<rect x="398.2" y="437.5" width="104.6" height="79" fill="#7bbdea"/>
<rect x="567.4" y="437.5" width="104.6" height="79" fill="#7bbdea"/>
<rect x="735.2" y="437.5" width="22.6" height="79" fill="#7bbdea"/>
<path d="M356.5 438V516M377.5 438V516M398.5 438V516M419.5 438V516M441.5 438V516M462.5 438V516M483.5 438V516M504.5 438V516M525.5 438V516M546.5 438V516M567.5 438V516M588.5 438V516M609.5 438V516M630.5 438V516M651.5 438V516M673.5 438V516M694.5 438V516M715.5 438V516M736.5 438V516M343 438.5H757M343 457.5H757M343 477.5H757M343 496.5H757" stroke="#87cefa" stroke-width="1" fill="none" shape-rendering="crispEdges"/>
<path d="M356.5 439V516M377.5 439V516M398.5 439V516M419.5 439V516M441.5 439V516M462.5 439V516M483.5 439V516M504.5 439V516M525.5 439V516M546.5 439V516M567.5 439V516M588.5 439V516M609.5 439V516M630.5 439V516M651.5 439V516M673.5 439V516M694.5 439V516M715.5 439V516M736.5 439V516M343 438.5H757M343 457.5H757M343 477.5H757M343 496.5H757" stroke="#000" stroke-width="1" stroke-dasharray="2 2" fill="none" shape-rendering="crispEdges"/>
<circle cx="342.5" cy="482.8" r="2.55" fill="#000000"/>
<circle cx="342.5" cy="505.6" r="2.55" fill="#5a5a5a"/>
<circle cx="342.5" cy="509.6" r="2.55" fill="#9a9a9a"/>
<circle cx="349.53" cy="506.2" r="2.55" fill="#000000"/>
<circle cx="349.53" cy="510.3" r="2.55" fill="#5a5a5a"/>
<circle cx="356.57" cy="481.4" r="2.55" fill="#000000"/>
<circle cx="356.57" cy="505.6" r="2.55" fill="#5a5a5a"/>
<circle cx="356.57" cy="509.6" r="2.55" fill="#9a9a9a"/>
<circle cx="363.6" cy="482.8" r="2.55" fill="#000000"/>
<circle cx="363.6" cy="500.2" r="2.55" fill="#5a5a5a"/>
<circle cx="363.6" cy="505.6" r="2.55" fill="#cdcdcd"/>
<circle cx="363.6" cy="510.3" r="2.55" fill="#ffffff"/>
<circle cx="370.64" cy="484.1" r="2.55" fill="#9a9a9a"/>
<circle cx="370.64" cy="482.8" r="2.55" fill="#000000"/>
<circle cx="370.64" cy="506.2" r="2.55" fill="#cdcdcd"/>
<circle cx="370.64" cy="510.3" r="2.55" fill="#ffffff"/>
<circle cx="377.67" cy="479.4" r="2.55" fill="#000000"/>
<circle cx="377.67" cy="502.9" r="2.55" fill="#9a9a9a"/>
<circle cx="377.67" cy="506.2" r="2.55" fill="#cdcdcd"/>
<circle cx="377.67" cy="510.3" r="2.55" fill="#ffffff"/>
<circle cx="384.7" cy="496.2" r="2.55" fill="#000000"/>
<circle cx="384.7" cy="501.5" r="2.55" fill="#5a5a5a"/>
<circle cx="384.7" cy="505.6" r="2.55" fill="#9a9a9a"/>
<circle cx="384.7" cy="508.9" r="2.55" fill="#cdcdcd"/>
<circle cx="384.7" cy="511" r="2.55" fill="#ffffff"/>
<circle cx="391.74" cy="496.8" r="2.55" fill="#000000"/>
<circle cx="391.74" cy="501.5" r="2.55" fill="#5a5a5a"/>
<circle cx="391.74" cy="505.6" r="2.55" fill="#9a9a9a"/>
<circle cx="391.74" cy="508.9" r="2.55" fill="#cdcdcd"/>
<circle cx="391.74" cy="510.3" r="2.55" fill="#ffffff"/>
<circle cx="398.77" cy="496.8" r="2.55" fill="#000000"/>
<circle cx="398.77" cy="501.5" r="2.55" fill="#5a5a5a"/>
<circle cx="398.77" cy="505.6" r="2.55" fill="#9a9a9a"/>
<circle cx="398.77" cy="510.3" r="2.55" fill="#ffffff"/>
<circle cx="405.81" cy="498.2" r="2.55" fill="#000000"/>
<circle cx="405.81" cy="502.2" r="2.55" fill="#5a5a5a"/>
<circle cx="405.81" cy="506.2" r="2.55" fill="#9a9a9a"/>
<circle cx="405.81" cy="510.3" r="2.55" fill="#ffffff"/>
<circle cx="412.84" cy="489.5" r="2.55" fill="#000000"/>
<circle cx="412.84" cy="501.5" r="2.55" fill="#5a5a5a"/>
<circle cx="412.84" cy="506.2" r="2.55" fill="#9a9a9a"/>
<circle cx="412.84" cy="510.3" r="2.55" fill="#ffffff"/>
<circle cx="419.87" cy="484.8" r="2.55" fill="#b01c1c"/>
<circle cx="419.87" cy="489.5" r="2.55" fill="#000000"/>
<circle cx="419.87" cy="505" r="2.55" fill="#9a9a9a"/>
<circle cx="419.87" cy="510.3" r="2.55" fill="#ffffff"/>
<circle cx="426.91" cy="500.2" r="2.55" fill="#5a5a5a"/>
<circle cx="426.91" cy="504.2" r="2.55" fill="#9a9a9a"/>
<circle cx="426.91" cy="510.3" r="2.55" fill="#cdcdcd"/>
<circle cx="433.94" cy="491.2" r="2.55" fill="#5a5a5a"/>
<circle cx="433.94" cy="506.2" r="2.55" fill="#cdcdcd"/>
<circle cx="433.94" cy="510.3" r="2.55" fill="#ffffff"/>
<circle cx="440.98" cy="490.1" r="2.55" fill="#5a5a5a"/>
<circle cx="440.98" cy="494.2" r="2.55" fill="#cdcdcd"/>
<circle cx="440.98" cy="510.3" r="2.55" fill="#ffffff"/>
<circle cx="448.01" cy="484.8" r="2.55" fill="#cdcdcd"/>
<circle cx="448.01" cy="510.3" r="2.55" fill="#cdcdcd"/>
<circle cx="455.04" cy="501.4" r="2.55" fill="#000000"/>
<circle cx="455.04" cy="505" r="2.55" fill="#9a9a9a"/>
<circle cx="455.04" cy="510.3" r="2.55" fill="#ffffff"/>
<circle cx="462.08" cy="507.1" r="2.55" fill="#000000"/>
<circle cx="462.08" cy="510.3" r="2.55" fill="#5a5a5a"/>
<circle cx="469.11" cy="505" r="2.55" fill="#9a9a9a"/>
<circle cx="469.11" cy="510.3" r="2.55" fill="#cdcdcd"/>
<circle cx="476.15" cy="472.4" r="2.55" fill="#000000"/>
<circle cx="476.15" cy="504" r="2.55" fill="#cdcdcd"/>
<circle cx="476.15" cy="510.3" r="2.55" fill="#ffffff"/>
<circle cx="483.18" cy="475" r="2.55" fill="#000000"/>
<circle cx="483.18" cy="502.3" r="2.55" fill="#cdcdcd"/>
<circle cx="483.18" cy="509.1" r="2.55" fill="#ffffff"/>
<circle cx="490.21" cy="483.5" r="2.55" fill="#9a9a9a"/>
<circle cx="490.21" cy="503" r="2.55" fill="#cdcdcd"/>
<circle cx="490.21" cy="509.1" r="2.55" fill="#ffffff"/>
<circle cx="497.25" cy="471.9" r="2.55" fill="#5a5a5a"/>
<circle cx="497.25" cy="486.6" r="2.55" fill="#9a9a9a"/>
<circle cx="497.25" cy="506.5" r="2.55" fill="#cdcdcd"/>
<circle cx="497.25" cy="509.1" r="2.55" fill="#ffffff"/>
<circle cx="504.28" cy="472.9" r="2.55" fill="#5a5a5a"/>
<circle cx="504.28" cy="504" r="2.55" fill="#9a9a9a"/>
<circle cx="504.28" cy="509.1" r="2.55" fill="#ffffff"/>
<circle cx="511.32" cy="472.9" r="2.55" fill="#000000"/>
<circle cx="511.32" cy="489.5" r="2.55" fill="#5a5a5a"/>
<circle cx="511.32" cy="504" r="2.55" fill="#9a9a9a"/>
<circle cx="511.32" cy="509.1" r="2.55" fill="#ffffff"/>
<circle cx="518.35" cy="490.7" r="2.55" fill="#5a5a5a"/>
<circle cx="518.35" cy="500.9" r="2.55" fill="#9a9a9a"/>
<circle cx="518.35" cy="509.1" r="2.55" fill="#ffffff"/>
<circle cx="525.38" cy="494.1" r="2.55" fill="#5a5a5a"/>
<circle cx="525.38" cy="500.9" r="2.55" fill="#9a9a9a"/>
<circle cx="525.38" cy="505.7" r="2.55" fill="#cdcdcd"/>
<circle cx="525.38" cy="509.1" r="2.55" fill="#ffffff"/>
<circle cx="532.42" cy="470.7" r="2.55" fill="#000000"/>
<circle cx="532.42" cy="500.6" r="2.55" fill="#5a5a5a"/>
<circle cx="532.42" cy="504" r="2.55" fill="#9a9a9a"/>
<circle cx="532.42" cy="509.1" r="2.55" fill="#ffffff"/>
<circle cx="539.45" cy="476.7" r="2.55" fill="#000000"/>
<circle cx="539.45" cy="501.4" r="2.55" fill="#5a5a5a"/>
<circle cx="539.45" cy="505.7" r="2.55" fill="#9a9a9a"/>
<circle cx="539.45" cy="509.1" r="2.55" fill="#ffffff"/>
<circle cx="546.49" cy="501.4" r="2.55" fill="#5a5a5a"/>
<circle cx="546.49" cy="505.7" r="2.55" fill="#9a9a9a"/>
<circle cx="546.49" cy="509.1" r="2.55" fill="#ffffff"/>
<circle cx="553.52" cy="501.4" r="2.55" fill="#5a5a5a"/>
<circle cx="553.52" cy="504.9" r="2.55" fill="#9a9a9a"/>
<circle cx="553.52" cy="509.1" r="2.55" fill="#ffffff"/>
<circle cx="560.55" cy="474.6" r="2.55" fill="#000000"/>
<circle cx="560.55" cy="500.6" r="2.55" fill="#5a5a5a"/>
<circle cx="560.55" cy="504.9" r="2.55" fill="#9a9a9a"/>
<circle cx="560.55" cy="509.1" r="2.55" fill="#ffffff"/>
<circle cx="567.59" cy="502.3" r="2.55" fill="#5a5a5a"/>
<circle cx="567.59" cy="506.5" r="2.55" fill="#9a9a9a"/>
<circle cx="567.59" cy="509.1" r="2.55" fill="#ffffff"/>
<circle cx="574.62" cy="503.1" r="2.55" fill="#5a5a5a"/>
<circle cx="574.62" cy="507.4" r="2.55" fill="#9a9a9a"/>
<circle cx="574.62" cy="509.1" r="2.55" fill="#cdcdcd"/>
<circle cx="581.66" cy="484.4" r="2.55" fill="#000000"/>
<circle cx="581.66" cy="503.1" r="2.55" fill="#5a5a5a"/>
<circle cx="581.66" cy="507.4" r="2.55" fill="#9a9a9a"/>
<circle cx="588.69" cy="483.5" r="2.55" fill="#000000"/>
<circle cx="588.69" cy="503.1" r="2.55" fill="#5a5a5a"/>
<circle cx="588.69" cy="507.4" r="2.55" fill="#9a9a9a"/>
<circle cx="595.72" cy="483.5" r="2.55" fill="#000000"/>
<circle cx="595.72" cy="504" r="2.55" fill="#5a5a5a"/>
<circle cx="595.72" cy="507.4" r="2.55" fill="#9a9a9a"/>
<circle cx="602.76" cy="483.5" r="2.55" fill="#000000"/>
<circle cx="602.76" cy="504" r="2.55" fill="#5a5a5a"/>
<circle cx="602.76" cy="507.4" r="2.55" fill="#9a9a9a"/>
<circle cx="609.79" cy="483.5" r="2.55" fill="#000000"/>
<circle cx="609.79" cy="504" r="2.55" fill="#5a5a5a"/>
<circle cx="609.79" cy="507.4" r="2.55" fill="#9a9a9a"/>
<circle cx="616.83" cy="483.5" r="2.55" fill="#000000"/>
<circle cx="616.83" cy="504" r="2.55" fill="#5a5a5a"/>
<circle cx="616.83" cy="507.4" r="2.55" fill="#9a9a9a"/>
<circle cx="623.86" cy="483.5" r="2.55" fill="#000000"/>
<circle cx="623.86" cy="507.8" r="2.55" fill="#9a9a9a"/>
<circle cx="623.86" cy="509.1" r="2.55" fill="#cdcdcd"/>
<circle cx="630.89" cy="486.9" r="2.55" fill="#5a5a5a"/>
<circle cx="630.89" cy="483.5" r="2.55" fill="#000000"/>
<circle cx="630.89" cy="508.3" r="2.55" fill="#9a9a9a"/>
<circle cx="637.93" cy="484.9" r="2.55" fill="#000000"/>
<circle cx="637.93" cy="508.3" r="2.55" fill="#9a9a9a"/>
<circle cx="644.96" cy="484.9" r="2.55" fill="#000000"/>
<circle cx="644.96" cy="504.9" r="2.55" fill="#5a5a5a"/>
<circle cx="644.96" cy="509.1" r="2.55" fill="#9a9a9a"/>
<circle cx="652" cy="505.4" r="2.55" fill="#000000"/>
<circle cx="652" cy="509.1" r="2.55" fill="#5a5a5a"/>
<circle cx="659.03" cy="508.8" r="2.55" fill="#000000"/>
<circle cx="666.06" cy="508.8" r="2.55" fill="#000000"/>
<circle cx="673.1" cy="509.5" r="2.55" fill="#000000"/>
<circle cx="680.13" cy="505.4" r="2.55" fill="#000000"/>
<circle cx="680.13" cy="509.1" r="2.55" fill="#5a5a5a"/>
<circle cx="687.17" cy="504.9" r="2.55" fill="#5a5a5a"/>
<circle cx="687.17" cy="509.1" r="2.55" fill="#9a9a9a"/>
<circle cx="687.17" cy="510.8" r="2.55" fill="#ffffff"/>
<circle cx="694.2" cy="501.4" r="2.55" fill="#5a5a5a"/>
<circle cx="694.2" cy="504" r="2.55" fill="#9a9a9a"/>
<circle cx="694.2" cy="508.3" r="2.55" fill="#ffffff"/>
<circle cx="701.23" cy="495.1" r="2.55" fill="#5a5a5a"/>
<circle cx="701.23" cy="499.7" r="2.55" fill="#9a9a9a"/>
<circle cx="701.23" cy="506.6" r="2.55" fill="#ffffff"/>
<circle cx="708.27" cy="495.1" r="2.55" fill="#5a5a5a"/>
<circle cx="708.27" cy="498" r="2.55" fill="#cdcdcd"/>
<circle cx="708.27" cy="503.1" r="2.55" fill="#ffffff"/>
<circle cx="715.3" cy="465.1" r="2.55" fill="#9a9a9a"/>
<circle cx="715.3" cy="496.3" r="2.55" fill="#cdcdcd"/>
<circle cx="715.3" cy="503.1" r="2.55" fill="#ffffff"/>
<circle cx="722.34" cy="496.3" r="2.55" fill="#9a9a9a"/>
<circle cx="722.34" cy="503.1" r="2.55" fill="#ffffff"/>
<circle cx="729.37" cy="446.5" r="2.55" fill="#5a5a5a"/>
<circle cx="729.37" cy="496.3" r="2.55" fill="#5a5a5a"/>
<circle cx="729.37" cy="498.9" r="2.55" fill="#9a9a9a"/>
<circle cx="729.37" cy="503.1" r="2.55" fill="#ffffff"/>
<circle cx="736.4" cy="498" r="2.55" fill="#cdcdcd"/>
<circle cx="736.4" cy="503.1" r="2.55" fill="#ffffff"/>
<circle cx="743.44" cy="449.4" r="2.55" fill="#cdcdcd"/>
<circle cx="743.44" cy="500.9" r="2.55" fill="#9a9a9a"/>
<circle cx="743.44" cy="507.8" r="2.55" fill="#ffffff"/>
<circle cx="750.47" cy="449.4" r="2.55" fill="#cdcdcd"/>
<circle cx="750.47" cy="510" r="2.55" fill="#ffffff"/>
<circle cx="757.51" cy="510" r="2.55" fill="#ffffff"/>
<circle cx="342.5" cy="448.5" r="2.55" fill="#b01c1c"/>
<circle cx="349.53" cy="448.5" r="2.55" fill="#b01c1c"/>
<circle cx="356.57" cy="450.2" r="2.55" fill="#b01c1c"/>
<circle cx="363.6" cy="448.5" r="2.55" fill="#b01c1c"/>
<circle cx="370.64" cy="448.5" r="2.55" fill="#b01c1c"/>
<circle cx="377.67" cy="448.5" r="2.55" fill="#b01c1c"/>
<circle cx="384.7" cy="450.2" r="2.55" fill="#b01c1c"/>
<circle cx="391.74" cy="450.2" r="2.55" fill="#b01c1c"/>
<circle cx="398.77" cy="451.1" r="2.55" fill="#b01c1c"/>
<circle cx="405.81" cy="451.9" r="2.55" fill="#b01c1c"/>
<circle cx="412.84" cy="454" r="2.55" fill="#b01c1c"/>
<circle cx="426.91" cy="448.5" r="2.55" fill="#b01c1c"/>
<circle cx="433.94" cy="448.5" r="2.55" fill="#b01c1c"/>
<circle cx="440.98" cy="448.5" r="2.55" fill="#b01c1c"/>
<circle cx="448.01" cy="451.1" r="2.55" fill="#b01c1c"/>
<circle cx="455.04" cy="477" r="2.55" fill="#b01c1c"/>
<circle cx="462.08" cy="477" r="2.55" fill="#b01c1c"/>
<circle cx="469.11" cy="470.7" r="2.55" fill="#b01c1c"/>
<circle cx="476.15" cy="470.7" r="2.55" fill="#b01c1c"/>
<circle cx="483.18" cy="469" r="2.55" fill="#b01c1c"/>
<circle cx="490.21" cy="470.7" r="2.55" fill="#b01c1c"/>
<circle cx="497.25" cy="448.5" r="2.55" fill="#b01c1c"/>
<circle cx="504.28" cy="447.3" r="2.55" fill="#b01c1c"/>
<circle cx="511.32" cy="447.3" r="2.55" fill="#b01c1c"/>
<circle cx="518.35" cy="447.3" r="2.55" fill="#b01c1c"/>
<circle cx="525.38" cy="445.6" r="2.55" fill="#b01c1c"/>
<circle cx="532.42" cy="447.3" r="2.55" fill="#b01c1c"/>
<circle cx="539.45" cy="446" r="2.55" fill="#b01c1c"/>
<circle cx="546.49" cy="446" r="2.55" fill="#b01c1c"/>
<circle cx="553.52" cy="446" r="2.55" fill="#b01c1c"/>
<circle cx="560.55" cy="447.3" r="2.55" fill="#b01c1c"/>
<circle cx="567.59" cy="447.3" r="2.55" fill="#b01c1c"/>
<circle cx="574.62" cy="447.3" r="2.55" fill="#b01c1c"/>
<circle cx="581.66" cy="447.3" r="2.55" fill="#b01c1c"/>
<circle cx="588.69" cy="447.3" r="2.55" fill="#b01c1c"/>
<circle cx="595.72" cy="446" r="2.55" fill="#b01c1c"/>
<circle cx="602.76" cy="446" r="2.55" fill="#b01c1c"/>
<circle cx="609.79" cy="446" r="2.55" fill="#b01c1c"/>
<circle cx="616.83" cy="446" r="2.55" fill="#b01c1c"/>
<circle cx="623.86" cy="443.9" r="2.55" fill="#b01c1c"/>
<circle cx="630.89" cy="443.9" r="2.55" fill="#b01c1c"/>
<circle cx="637.93" cy="445.6" r="2.55" fill="#b01c1c"/>
<circle cx="644.96" cy="443.9" r="2.55" fill="#b01c1c"/>
<circle cx="652" cy="443.9" r="2.55" fill="#b01c1c"/>
<circle cx="659.03" cy="443.9" r="2.55" fill="#b01c1c"/>
<circle cx="666.06" cy="443.9" r="2.55" fill="#b01c1c"/>
<circle cx="673.1" cy="443.9" r="2.55" fill="#b01c1c"/>
<circle cx="680.13" cy="443.9" r="2.55" fill="#b01c1c"/>
<circle cx="687.17" cy="443.9" r="2.55" fill="#b01c1c"/>
<circle cx="694.2" cy="443.9" r="2.55" fill="#b01c1c"/>
<circle cx="701.23" cy="443.9" r="2.55" fill="#b01c1c"/>
<circle cx="708.27" cy="443.9" r="2.55" fill="#b01c1c"/>
<circle cx="715.3" cy="443.9" r="2.55" fill="#b01c1c"/>
<circle cx="722.34" cy="443.9" r="2.55" fill="#b01c1c"/>
<circle cx="729.37" cy="443.9" r="2.55" fill="#b01c1c"/>
<circle cx="736.4" cy="443.9" r="2.55" fill="#b01c1c"/>
<circle cx="743.44" cy="443.9" r="2.55" fill="#b01c1c"/>
<circle cx="750.47" cy="443.9" r="2.55" fill="#b01c1c"/>
<circle cx="757.51" cy="443.9" r="2.55" fill="#b01c1c"/>
<polyline points="342.6,486.6 349.4,485.6 356.2,484.4 363.9,483.5 370.4,482.7 377.6,459.6 384.4,461.7 391.2,464.7 398.9,465.6 405.7,470.7 412.6,467.3 419.4,466.4 427.1,469.9 433.9,465.6 440.7,468.1 447.9,471.2 455.2,473.6 462.1,476.3 468.9,463 476.6,458.8 483.1,458.8 490,460 496.8,463.9 504.5,465.6 511.3,465.6 518.1,465.1 525,464.7 531.8,472.4 539.1,475 546.3,470.2 553.1,469 560.8,469.9 567.6,471.6 574.5,472.9 581.3,473.6 589,474.1 595.8,474.6 602.6,474.6 609.5,474.6 618,475 624,474.1 630.8,474.6 637.6,475 644.5,475.3 651.3,475.8 659,487.3 665.8,487.8 672.6,490.3 679.5,482.7 686.3,475.8 694,474.6 701.7,473.6 708.5,472.9 715.3,472.4 722.1,472.9 729,473.6 735.8,475.3 743.5,479.2 750.3,483.5 757.2,486.1" fill="none" stroke="#ff9900" stroke-width="2.2" stroke-linejoin="round" stroke-linecap="round"/>
</g>
<g clip-path="url(#cCld)">
<rect x="342.5" y="525.5" width="415" height="78" fill="#87cefa"/>
<rect x="398.2" y="525.5" width="104.6" height="78" fill="#7bbdea"/>
<rect x="567.4" y="525.5" width="104.6" height="78" fill="#7bbdea"/>
<rect x="735.2" y="525.5" width="22.6" height="78" fill="#7bbdea"/>
<path d="M356.5 526V603M377.5 526V603M398.5 526V603M419.5 526V603M441.5 526V603M462.5 526V603M483.5 526V603M504.5 526V603M525.5 526V603M546.5 526V603M567.5 526V603M588.5 526V603M609.5 526V603M630.5 526V603M651.5 526V603M673.5 526V603M694.5 526V603M715.5 526V603M736.5 526V603M343 526.5H757M343 545.5H757M343 564.5H757M343 584.5H757" stroke="#87cefa" stroke-width="1" fill="none" shape-rendering="crispEdges"/>
<polygon points="342.5,525 364,525 366,527.5 372,527.5 377,530 382,527 384,531 400,531 404,527 410,526.5 415,531 420,538.5 426.6,549.4 434.3,536.6 439.4,550 443.2,560.2 447.6,578 452.1,560.2 455.9,545 462.3,526.5 467.4,541 470,549.4 476.4,526.5 482.7,534.7 489.1,555.7 497.4,551.9 504.4,560.2 510.7,528.4 518.4,546.2 524.7,543 532.4,534.1 540.1,537.9 546.5,541.7 554.1,537.9 560.5,538.5 568.1,540.5 573.2,536 582.1,527.1 588.5,525 679.1,525 685.4,542.4 695.6,550 702,555.1 708.3,562.7 714.7,560.2 721.1,550 728.7,544.9 736.3,541.1 744,558.9 750.3,556.4 758,548 758,605 342.5,605" fill="#5c5c5c"/>
<polygon points="695.6,550 702,555.1 708.3,562.7 714.7,560.2 721.1,550 728.7,544.9 736.3,541.1 744,558.9 750.3,556.4 758,548 758,597.5 749.1,592.6 741.4,588.2 736.3,578 728.7,581.8 721.1,578 714.7,565.9 709.6,575.4 704.5,572.9 700.7,570.3" fill="#ffffff"/>
<polygon points="700.7,570.3 704.5,572.9 709.6,575.4 714.7,565.9 721.1,578 728.7,581.8 736.3,578 741.4,588.2 749.1,592.6 758,597.5 758,600 749.1,598.3 741.4,593.2 736.3,586.2 728.7,585.6 716,586.9 708.3,580.5 702,574" fill="#a3a3a3"/>
<polygon points="469,556 476.4,526.5 482.7,534.7 486,552 489.1,555.7 497.4,551.9 504.4,560.2 503,563 497.4,556 490.4,570.4 484,578 478,562 472,566" fill="#a3a3a3"/>
<polygon points="364,525.5 372,526 380,526 383,530 382,541 377,533 372,532 366,528" fill="#a3a3a3"/>
<polygon points="342.5,548.7 348.9,542.4 352.7,547.5 356.5,557.6 361,569.1 365.5,578 370.5,588.2 376.9,584.4 383.3,580.5 390.9,583.1 398.5,581.8 406.2,576.7 412.6,574.2 420.3,575.5 425.4,578 430.5,583.1 435.5,589.5 440.6,593.3 447,593.3 453.4,570.4 459.7,557.6 463.5,555.1 467.4,566.5 471.2,588.2 475,593.3 482.7,597.1 490.4,593.3 504.4,579.3 512,585.6 518.4,595.8 526,598.4 532.4,595.8 540,593.3 554.1,590.7 566.8,583.1 575.7,570.4 588.5,562.7 598.6,560.2 605,558.6 610.2,560.2 619.1,564 631.8,562.7 640.7,557.6 650.9,547.5 657.3,529.6 668,525 672.7,525.8 676.5,533.5 682.9,551.3 688,572.9 691.8,588.2 695.6,605 342.5,605" fill="#3c3c3c"/>
<rect x="341" y="574.2" width="3.0" height="29.8" rx="1.4" fill="#ffb800"/>
<rect x="348.03" y="567.2" width="3.0" height="36.8" rx="1.4" fill="#ffb800"/>
<rect x="355.07" y="583.7" width="3.0" height="20.3" rx="1.4" fill="#ffb800"/>
<rect x="369.14" y="595.2" width="3.0" height="8.8" rx="1.4" fill="#ffb800"/>
<rect x="376.17" y="592" width="3.0" height="12" rx="1.4" fill="#ffb800"/>
<rect x="383.2" y="592" width="3.0" height="12" rx="1.4" fill="#ffb800"/>
<rect x="390.24" y="593.9" width="3.0" height="10.1" rx="1.4" fill="#ffb800"/>
<rect x="397.27" y="590.1" width="3.0" height="13.9" rx="1.4" fill="#ffb800"/>
<rect x="404.31" y="591" width="3.0" height="13" rx="1.4" fill="#ffb800"/>
<rect x="411.34" y="590.1" width="3.0" height="13.9" rx="1.4" fill="#ffb800"/>
<rect x="418.37" y="592" width="3.0" height="12" rx="1.4" fill="#ffb800"/>
<rect x="425.41" y="585" width="3.0" height="19" rx="1.4" fill="#ffb800"/>
<rect x="432.44" y="597.1" width="3.0" height="6.9" rx="1.4" fill="#ffb800"/>
<rect x="439.48" y="588.8" width="3.0" height="15.2" rx="1.4" fill="#ffb800"/>
<rect x="446.51" y="579.9" width="3.0" height="24.1" rx="1.4" fill="#ffb800"/>
<rect x="453.54" y="579.3" width="3.0" height="24.7" rx="1.4" fill="#ffb800"/>
<rect x="460.58" y="574.2" width="3.0" height="29.8" rx="1.4" fill="#ffb800"/>
<rect x="467.61" y="601.2" width="3.0" height="2.8" rx="1.4" fill="#ffb800"/>
<rect x="474.65" y="601.2" width="3.0" height="2.8" rx="1.4" fill="#ffb800"/>
<rect x="488.71" y="601.2" width="3.0" height="2.8" rx="1.4" fill="#ffb800"/>
<rect x="495.75" y="598.6" width="3.0" height="5.4" rx="1.4" fill="#ffb800"/>
<rect x="502.78" y="601.2" width="3.0" height="2.8" rx="1.4" fill="#ffb800"/>
<rect x="573.12" y="601.2" width="3.0" height="2.8" rx="1.4" fill="#ffb800"/>
<rect x="580.16" y="597.1" width="3.0" height="6.9" rx="1.4" fill="#ffb800"/>
<rect x="587.19" y="593.9" width="3.0" height="10.1" rx="1.4" fill="#ffb800"/>
<rect x="594.22" y="591.4" width="3.0" height="12.6" rx="1.4" fill="#ffb800"/>
<rect x="601.26" y="591.4" width="3.0" height="12.6" rx="1.4" fill="#ffb800"/>
<rect x="608.29" y="591.4" width="3.0" height="12.6" rx="1.4" fill="#ffb800"/>
<rect x="615.33" y="590.7" width="3.0" height="13.3" rx="1.4" fill="#ffb800"/>
<rect x="622.36" y="591.4" width="3.0" height="12.6" rx="1.4" fill="#ffb800"/>
<rect x="629.39" y="590.7" width="3.0" height="13.3" rx="1.4" fill="#ffb800"/>
<rect x="636.43" y="590.7" width="3.0" height="13.3" rx="1.4" fill="#ffb800"/>
<rect x="643.46" y="590.7" width="3.0" height="13.3" rx="1.4" fill="#ffb800"/>
<rect x="650.5" y="585" width="3.0" height="19" rx="1.4" fill="#ffb800"/>
<rect x="657.53" y="562.1" width="3.0" height="41.9" rx="1.4" fill="#ffb800"/>
<rect x="664.56" y="562.1" width="3.0" height="41.9" rx="1.4" fill="#ffb800"/>
<rect x="671.6" y="557" width="3.0" height="47" rx="1.4" fill="#ffb800"/>
<rect x="678.63" y="576.7" width="3.0" height="27.3" rx="1.4" fill="#ffb800"/>
<rect x="685.67" y="601" width="3.0" height="3" rx="1.4" fill="#ffb800"/>
<rect x="748.97" y="594.5" width="3.0" height="9.5" rx="1.4" fill="#ffb800"/>
<rect x="756.01" y="588" width="3.0" height="16" rx="1.4" fill="#ffb800"/>
<path d="M356.5 527V603M377.5 527V603M398.5 527V603M419.5 527V603M441.5 527V603M462.5 527V603M483.5 527V603M504.5 527V603M525.5 527V603M546.5 527V603M567.5 527V603M588.5 527V603M609.5 527V603M630.5 527V603M651.5 527V603M673.5 527V603M694.5 527V603M715.5 527V603M736.5 527V603M343 526.5H757M343 545.5H757M343 564.5H757M343 584.5H757" stroke="#000" stroke-width="1" stroke-dasharray="2 2" fill="none" shape-rendering="crispEdges"/>
<polyline points="364.2,526.5 371.8,532.2 383.3,534.7 390.9,538.5 398.5,560.2 410,598.4 420,602.6 465,590 471.2,552.5 475,546.2 478,560 482.7,578 490.4,570.4 497.4,551.9 504.4,564 510.7,528.4 518.4,560.2 526,564 532.4,534.1 540,551.3 546.5,562.1 554.1,550.6 560.5,537.3 568.1,550 575.7,565.3 582.1,593.9 588.5,592 596.1,598.4 605,600.9 615,602.6 670,602.6 675.2,598.4 681.5,581.8 686.6,567.8 694.3,558.9 700.6,572.9 708.3,581.8 714.6,566.5 722,580 729,585 736,588 744,596 757,600" fill="none" stroke="#a8a8a8" stroke-width="1.1" stroke-linejoin="round" stroke-linecap="round"/>
<polyline points="357.2,525.8 362.9,544.9 370.5,557.6 376.9,541.7 384.5,550 391.5,538.5 398.5,560.2 406.2,564 411.4,580.5 419,600.9 425.4,595.8 434.3,565.3 441.9,580.5 448.3,600.9 453.4,602.6 484,602.6 489.1,600.9 504.4,590.7 512,592 518.4,589.5 526,591.4 532.4,588.8 540.1,588.8 551.5,583.1 560.5,578 566.8,581.8 574.5,588.2 582.1,574.2 588.5,581.8 594.8,566.5 602.5,557.6 610.2,557.6 616.5,560.8 622.9,567.8 630.5,575.5 638.2,577.4 644.5,562.7 651.5,536.6 658.5,541.1 666.2,553.8 672.6,555.1 680.3,546.8 686.6,545.5 695.5,549.4" fill="none" stroke="#ffffff" stroke-width="1.3" stroke-linejoin="round" stroke-linecap="round"/>
</g>
<g clip-path="url(#lTemp)">
<path d="M142.5 58V134M163.5 58V134M184.5 58V134M205.5 58V134M226.5 58V134M136 59.5H245M136 77.5H245M136 94.5H245M136 111.5H245M136 129.5H245" stroke="#fff" stroke-width="1" fill="none" shape-rendering="crispEdges"/>
<polygon points="135,87.8 142.7,88.6 163.6,97.3 189.7,104.3 224.6,108.7 231.6,110.4 246,105.2 246,113.3 238.5,117.7 231.6,121.1 224.6,116.8 198.5,115 177.5,114.2 170.6,112.4 163.6,108.9 154.9,106.3 142.7,101.6 135,101.1" fill="#ffe6dc"/>
<polygon points="135,102.6 142.7,103.1 154.9,107.8 163.6,110.1 170.6,111.3 177.5,113.9 191.5,115.7 207.2,119.1 214.1,118.3 219.4,120.9 224.6,119.1 231.6,122.6 238.5,118.3 246,115.7 246,135 135,135" fill="#acdcf8"/>
<polygon points="135,111.3 170.6,112.2 189.7,117.4 207.2,122.6 224.6,127.9 231.6,129.6 238.5,124.4 246,120 246,135 135,135" fill="#7cc4f0"/>
<polygon points="170.2,112.2 189.7,117.4 207.2,122.6 224.6,127.9 231.8,129.6 231.8,135 170.2,135" fill="#000" opacity="0.06"/>
<path d="M142.5 59V134M163.5 59V134M184.5 59V134M205.5 59V134M226.5 59V134M136 59.5H245M136 77.5H245M136 94.5H245M136 111.5H245M136 129.5H245" stroke="#000" stroke-width="1" stroke-dasharray="2 2" fill="none" shape-rendering="crispEdges"/>
<line x1="142.7" y1="71.2" x2="142.7" y2="98.2" stroke="#a01010" stroke-width="1.2"/>
<line x1="149.3" y1="78.2" x2="149.3" y2="92.1" stroke="#a01010" stroke-width="1.2"/>
<line x1="156.6" y1="86.9" x2="156.6" y2="100" stroke="#a01010" stroke-width="1.2"/>
<line x1="163.6" y1="96.5" x2="163.6" y2="106.9" stroke="#a01010" stroke-width="1.2"/>
<line x1="170.6" y1="100.8" x2="170.6" y2="113.9" stroke="#a01010" stroke-width="1.2"/>
<line x1="177.5" y1="103.5" x2="177.5" y2="118.3" stroke="#a01010" stroke-width="1.2"/>
<line x1="184.5" y1="106.9" x2="184.5" y2="120" stroke="#a01010" stroke-width="1.2"/>
<line x1="191.5" y1="106.9" x2="191.5" y2="123.5" stroke="#a01010" stroke-width="1.2"/>
<line x1="198.5" y1="108.7" x2="198.5" y2="126.1" stroke="#a01010" stroke-width="1.2"/>
<line x1="205.4" y1="110.4" x2="205.4" y2="128.7" stroke="#a01010" stroke-width="1.2"/>
<line x1="212.4" y1="109.6" x2="212.4" y2="129.6" stroke="#a01010" stroke-width="1.2"/>
<line x1="219.4" y1="110.4" x2="219.4" y2="130.5" stroke="#a01010" stroke-width="1.2"/>
<line x1="226.3" y1="110.4" x2="226.3" y2="131.3" stroke="#a01010" stroke-width="1.2"/>
<line x1="233.3" y1="111.3" x2="233.3" y2="132.2" stroke="#a01010" stroke-width="1.2"/>
<line x1="240.3" y1="106.1" x2="240.3" y2="120" stroke="#a01010" stroke-width="1.2"/>
<rect x="141.5" y="112" width="2.4" height="2.4" fill="#6a5fe0"/>
<rect x="148.1" y="112" width="2.4" height="2.4" fill="#6a5fe0"/>
<rect x="155.4" y="112.4" width="2.4" height="2.4" fill="#6a5fe0"/>
<rect x="162.4" y="112.4" width="2.4" height="2.4" fill="#6a5fe0"/>
<rect x="169.4" y="112.8" width="2.4" height="2.4" fill="#6a5fe0"/>
<rect x="190.3" y="116.8" width="2.4" height="2.4" fill="#6a5fe0"/>
<rect x="225.1" y="119.8" width="2.4" height="2.4" fill="#6a5fe0"/>
<rect x="239.1" y="118.8" width="2.4" height="2.4" fill="#6a5fe0"/>
<polyline points="135,99.1 142.7,99.6 154.9,104.3 163.6,106.9 170.6,110.4 177.5,112.2 198.5,113 224.6,114.8 231.6,119.1 238.5,115.7 246,111.3" fill="none" stroke="#ff0000" stroke-width="2.6" stroke-linejoin="round" stroke-linecap="round"/>
<polyline points="135,102.6 142.7,103.1 154.9,107.8 163.6,110.1 170.6,111.3 177.5,113.9 191.5,115.7 207.2,119.1 214.1,118.3 219.4,120.9 224.6,119.1 231.6,122.6 238.5,118.3 246,115.7" fill="none" stroke="#0000ff" stroke-width="2.6" stroke-linejoin="round" stroke-linecap="round"/>
</g>
<g clip-path="url(#lPrec)">
<path d="M142.5 144V220M163.5 144V220M184.5 144V220M205.5 144V220M226.5 144V220M136 150.5H245M136 168.5H245M136 185.5H245M136 203.5H245" stroke="#fff" stroke-width="1" fill="none" shape-rendering="crispEdges"/>
<polygon points="135.5,220.5 135.5,186.8 143.7,186.8 143.7,181 150.5,181 150.5,179.2 157.7,179.2 157.7,202.3 164.1,202.3 164.1,207.7 170.5,207.7 170.5,217.7 176.8,217.7 176.8,220.5" fill="#10a010"/>
<rect x="157.7" y="182.3" width="6.4" height="20" fill="#1030d0"/>
<rect x="164.1" y="205" width="6.4" height="2.7" fill="#1030d0"/>
<line x1="139.5" y1="165" x2="139.5" y2="187" stroke="#10b010" stroke-width="1.1"/>
<line x1="146.5" y1="148.6" x2="146.5" y2="181.4" stroke="#10b010" stroke-width="1.1"/>
<line x1="153.5" y1="148.6" x2="153.5" y2="179.5" stroke="#10b010" stroke-width="1.1"/>
<rect x="145.4" y="146.1" width="2.2" height="2.2" fill="#ff0000"/>
<rect x="152.4" y="146.1" width="2.2" height="2.2" fill="#ff0000"/>
<circle cx="139.5" cy="173.2" r="2.1" fill="#ffee00" stroke="#604000" stroke-width="0.6"/>
<circle cx="146.5" cy="173.2" r="2.1" fill="#ffa000" stroke="#604000" stroke-width="0.6"/>
<circle cx="153.5" cy="173.2" r="2.1" fill="#ff0000" stroke="#604000" stroke-width="0.6"/>
<path d="M142.5 145V220M163.5 145V220M184.5 145V220M205.5 145V220M226.5 145V220M136 150.5H245M136 168.5H245M136 185.5H245M136 203.5H245" stroke="#000" stroke-width="1" stroke-dasharray="2 2" fill="none" shape-rendering="crispEdges"/>
<line x1="136.5" y1="219.4" x2="166" y2="219.4" stroke="#ff2020" stroke-width="1.2" stroke-dasharray="2 2"/>
<polyline points="135.56,171.95 140.24,168.73 144.63,165.07 147.56,161.42 153.42,156.29 159.27,154.1 165.12,152.63 173.9,152.63 184.15,152.63 191.47,148.98 197.32,148.98 204.64,154.83 211.96,155.85 217.81,152.63 225.13,149.42 232.44,150.44 239.76,156.29 245.91,164.64" fill="none" stroke="#e04a1a" stroke-width="2.3" stroke-linejoin="round" stroke-linecap="round"/>
</g>
<g clip-path="url(#lPres)">
<path d="M142.5 230V306M163.5 230V306M184.5 230V306M205.5 230V306M226.5 230V306M136 231.5H245M136 254.5H245M136 278.5H245M136 301.5H245" stroke="#fff" stroke-width="1" fill="none" shape-rendering="crispEdges"/>
<polygon points="135.27,260.12 143.17,259.83 149.03,254.27 157.81,248.42 165.12,248.42 170.98,244.76 173.9,246.22 181.22,249.15 191.47,253.54 203.17,253.54 225.13,253.54 232.44,257.2 245.91,265.25 246,307 135,307" fill="#ffff00"/>
<polygon points="165.1,307 165.1,248.42 165.12,248.42 170.2,245.24 170.2,307" fill="#ffd400"/>
<path d="M142.5 231V306M163.5 231V306M184.5 231V306M205.5 231V306M226.5 231V306M136 231.5H245M136 254.5H245M136 278.5H245M136 301.5H245" stroke="#000" stroke-width="1" stroke-dasharray="2 2" fill="none" shape-rendering="crispEdges"/>
<polyline points="135.27,260.12 143.17,259.83 149.03,254.27 157.81,248.42 165.12,248.42 170.98,244.76 173.9,246.22 181.22,249.15 191.47,253.54 203.17,253.54 225.13,253.54 232.44,257.2 245.91,265.25" fill="none" stroke="#000" stroke-width="2.2" stroke-linejoin="round" stroke-linecap="round"/>
</g>
<g clip-path="url(#lWind)">
<path d="M142.5 316V392M163.5 316V392M184.5 316V392M205.5 316V392M226.5 316V392M136 334.5H245M136 354.5H245M136 372.5H245" stroke="#fff" stroke-width="1" fill="none" shape-rendering="crispEdges"/>
<polygon points="135,393 135,364.98 141.45,368.21 148.1,369.87 148.1,393" fill="#22c422" stroke="#22c422" stroke-width="0.4"/>
<polygon points="148.1,393 148.1,369.87 149.08,370.11 158.63,372.02 168.17,373.93 169.1,374.02 169.1,393" fill="#008000" stroke="#008000" stroke-width="0.4"/>
<polygon points="169.1,393 169.1,374.02 177.71,374.89 187.25,374.5 196.79,372.02 196.8,372.02 196.8,393" fill="#004080" stroke="#004080" stroke-width="0.4"/>
<polygon points="196.8,393 196.8,372.02 210.15,372.02 211.1,372.02 211.1,393" fill="#008000" stroke="#008000" stroke-width="0.4"/>
<polygon points="211.1,393 211.1,372.02 225.4,372.02 225.4,393" fill="#004080" stroke="#004080" stroke-width="0.4"/>
<polygon points="225.4,393 225.4,372.02 225.42,372.02 234.96,370.11 238.8,369.92 238.8,393" fill="#008000" stroke="#008000" stroke-width="0.4"/>
<polygon points="238.8,393 238.8,369.92 246,369.54 246,393" fill="#22c422" stroke="#22c422" stroke-width="0.4"/>
<path d="M142.5 317V392M163.5 317V392M184.5 317V392M205.5 317V392M226.5 317V392M136 334.5H245M136 354.5H245M136 372.5H245" stroke="#000" stroke-width="1" stroke-dasharray="2 2" fill="none" shape-rendering="crispEdges"/>
<line x1="142.4" y1="340.5" x2="148.1" y2="340.5" stroke="#ff0000" stroke-width="1.4"/>
<line x1="148.1" y1="347.8" x2="161.5" y2="347.8" stroke="#ff0000" stroke-width="1.4"/>
<line x1="161.5" y1="351" x2="169.1" y2="351" stroke="#ff0000" stroke-width="1.4"/>
<line x1="169.1" y1="355.4" x2="176.8" y2="355.4" stroke="#ff0000" stroke-width="1.4"/>
<line x1="176.8" y1="358.7" x2="184.4" y2="358.7" stroke="#ff0000" stroke-width="1.4"/>
<line x1="184.4" y1="354.8" x2="190.1" y2="354.8" stroke="#ff0000" stroke-width="1.4"/>
<line x1="190.1" y1="351" x2="196.8" y2="351" stroke="#ff0000" stroke-width="1.4"/>
<line x1="196.8" y1="350.1" x2="210.2" y2="350.1" stroke="#ff0000" stroke-width="1.4"/>
<line x1="210.2" y1="351" x2="225.4" y2="351" stroke="#ff0000" stroke-width="1.4"/>
<line x1="225.4" y1="347.2" x2="233.1" y2="347.2" stroke="#ff0000" stroke-width="1.4"/>
<line x1="233.1" y1="342.8" x2="245.5" y2="342.8" stroke="#ff0000" stroke-width="1.4"/>
<polygon points="136.5,315.8 140.5,315.8 138.6,319" fill="#ff0000"/>
<polyline points="134.96,364.96 141.45,368.21 149.08,370.11 158.63,372.02 168.17,373.93 177.71,374.89 187.25,374.5 196.79,372.02 210.15,372.02 225.42,372.02 234.96,370.11 246.03,369.54" fill="none" stroke="#0c0c96" stroke-width="2.4" stroke-linejoin="round" stroke-linecap="round"/>
</g>
<g clip-path="url(#lWdir)">
<path d="M142.5 399V430M163.5 399V430M184.5 399V430M205.5 399V430M226.5 399V430" stroke="#fff" stroke-width="1" fill="none" shape-rendering="crispEdges"/>
<path d="M142.5 400V430M163.5 400V430M184.5 400V430M205.5 400V430M226.5 400V430" stroke="#000" stroke-width="1" stroke-dasharray="2 2" fill="none" shape-rendering="crispEdges"/>
<rect x="130" y="398" width="5.5" height="33" fill="#fdfdfa"/>
</g>
<g clip-path="url(#lWdirW)">
<line x1="132.03" y1="406.99" x2="135.24" y2="416.88" stroke="#0e0e9c" stroke-width="1.25"/>
<polygon points="136.97,422.21 132.29,417.84 138.19,415.92" fill="#0e0e9c"/>
<line x1="138.93" y1="406.99" x2="142.14" y2="416.88" stroke="#0e0e9c" stroke-width="1.25"/>
<polygon points="143.87,422.21 139.19,417.84 145.09,415.92" fill="#0e0e9c"/>
<line x1="145.83" y1="406.99" x2="149.04" y2="416.88" stroke="#0e0e9c" stroke-width="1.25"/>
<polygon points="150.77,422.21 146.09,417.84 151.99,415.92" fill="#0e0e9c"/>
<line x1="152.73" y1="406.99" x2="155.94" y2="416.88" stroke="#0e0e9c" stroke-width="1.25"/>
<polygon points="157.67,422.21 152.99,417.84 158.89,415.92" fill="#0e0e9c"/>
<line x1="159.63" y1="406.99" x2="162.84" y2="416.88" stroke="#0e0e9c" stroke-width="1.25"/>
<polygon points="164.57,422.21 159.89,417.84 165.79,415.92" fill="#0e0e9c"/>
<line x1="166.53" y1="406.99" x2="169.74" y2="416.88" stroke="#0e0e9c" stroke-width="1.25"/>
<polygon points="171.47,422.21 166.79,417.84 172.69,415.92" fill="#0e0e9c"/>
<line x1="173.43" y1="406.99" x2="176.64" y2="416.88" stroke="#0e0e9c" stroke-width="1.25"/>
<polygon points="178.37,422.21 173.69,417.84 179.59,415.92" fill="#0e0e9c"/>
<line x1="180.33" y1="406.99" x2="183.54" y2="416.88" stroke="#0e0e9c" stroke-width="1.25"/>
<polygon points="185.27,422.21 180.59,417.84 186.49,415.92" fill="#0e0e9c"/>
<line x1="187.23" y1="406.99" x2="190.44" y2="416.88" stroke="#0e0e9c" stroke-width="1.25"/>
<polygon points="192.17,422.21 187.49,417.84 193.39,415.92" fill="#0e0e9c"/>
<line x1="194.13" y1="406.99" x2="197.34" y2="416.88" stroke="#0e0e9c" stroke-width="1.25"/>
<polygon points="199.07,422.21 194.39,417.84 200.29,415.92" fill="#0e0e9c"/>
<line x1="201.03" y1="406.99" x2="204.24" y2="416.88" stroke="#0e0e9c" stroke-width="1.25"/>
<polygon points="205.97,422.21 201.29,417.84 207.19,415.92" fill="#0e0e9c"/>
<line x1="207.93" y1="406.99" x2="211.14" y2="416.88" stroke="#0e0e9c" stroke-width="1.25"/>
<polygon points="212.87,422.21 208.19,417.84 214.09,415.92" fill="#0e0e9c"/>
<line x1="214.83" y1="406.99" x2="218.04" y2="416.88" stroke="#0e0e9c" stroke-width="1.25"/>
<polygon points="219.77,422.21 215.09,417.84 220.99,415.92" fill="#0e0e9c"/>
<line x1="221.73" y1="406.99" x2="224.94" y2="416.88" stroke="#0e0e9c" stroke-width="1.25"/>
<polygon points="226.67,422.21 221.99,417.84 227.89,415.92" fill="#0e0e9c"/>
<line x1="228.63" y1="406.99" x2="231.84" y2="416.88" stroke="#0e0e9c" stroke-width="1.25"/>
<polygon points="233.57,422.21 228.89,417.84 234.79,415.92" fill="#0e0e9c"/>
<line x1="235.53" y1="406.99" x2="238.74" y2="416.88" stroke="#0e0e9c" stroke-width="1.25"/>
<polygon points="240.47,422.21 235.79,417.84 241.69,415.92" fill="#0e0e9c"/>
<line x1="242.43" y1="406.99" x2="245.64" y2="416.88" stroke="#0e0e9c" stroke-width="1.25"/>
<polygon points="247.37,422.21 242.69,417.84 248.59,415.92" fill="#0e0e9c"/>
</g>
<g clip-path="url(#lVis)">
<rect x="135.5" y="436.5" width="110" height="78" fill="#87cefa"/>
<rect x="170.2" y="436.5" width="61.6" height="78" fill="#7bbdea"/>
<path d="M142.5 437V514M163.5 437V514M184.5 437V514M205.5 437V514M226.5 437V514M136 437.5H245M136 456.5H245M136 475.5H245M136 495.5H245" stroke="#87cefa" stroke-width="1" fill="none" shape-rendering="crispEdges"/>
<path d="M142.5 438V514M163.5 438V514M184.5 438V514M205.5 438V514M226.5 438V514M136 437.5H245M136 456.5H245M136 475.5H245M136 495.5H245" stroke="#000" stroke-width="1" stroke-dasharray="2 2" fill="none" shape-rendering="crispEdges"/>
<circle cx="136.3" cy="475.3" r="2.5" fill="#b01c1c"/>
<circle cx="143.3" cy="474.8" r="2.5" fill="#b01c1c"/>
<circle cx="150.6" cy="458.3" r="2.5" fill="#b01c1c"/>
<circle cx="157.6" cy="458.3" r="2.5" fill="#b01c1c"/>
<circle cx="164.3" cy="459.8" r="2.5" fill="#b01c1c"/>
<circle cx="170.4" cy="451.5" r="2.5" fill="#b01c1c"/>
<circle cx="177.7" cy="449.1" r="2.5" fill="#b01c1c"/>
<circle cx="184.4" cy="449.1" r="2.5" fill="#b01c1c"/>
<circle cx="191.2" cy="449.1" r="2.5" fill="#b01c1c"/>
<circle cx="198.2" cy="451.5" r="2.5" fill="#b01c1c"/>
<circle cx="204.6" cy="449.1" r="2.5" fill="#b01c1c"/>
<circle cx="211.3" cy="449.1" r="2.5" fill="#b01c1c"/>
<circle cx="218.3" cy="449.1" r="2.5" fill="#b01c1c"/>
<circle cx="225.2" cy="449.1" r="2.5" fill="#b01c1c"/>
<circle cx="232.6" cy="449.1" r="2.5" fill="#b01c1c"/>
<circle cx="239.3" cy="449.1" r="2.5" fill="#b01c1c"/>
<circle cx="244.8" cy="449.1" r="2.5" fill="#b01c1c"/>
<circle cx="191.2" cy="456.5" r="2.5" fill="#000000"/>
<circle cx="198.2" cy="463.8" r="2.5" fill="#000000"/>
<circle cx="204.6" cy="468" r="2.5" fill="#000000"/>
<circle cx="211.3" cy="469.8" r="2.5" fill="#000000"/>
<circle cx="218.3" cy="481.3" r="2.5" fill="#000000"/>
<circle cx="225.2" cy="485" r="2.5" fill="#000000"/>
<circle cx="232.6" cy="489" r="2.5" fill="#000000"/>
<circle cx="239.3" cy="481.3" r="2.5" fill="#000000"/>
<circle cx="244.8" cy="475.9" r="2.5" fill="#000000"/>
<circle cx="184.4" cy="489" r="2.5" fill="#000000"/>
<circle cx="143.3" cy="481.3" r="2.5" fill="#5a5a5a"/>
<circle cx="150.6" cy="492.7" r="2.5" fill="#5a5a5a"/>
<circle cx="157.6" cy="492.7" r="2.5" fill="#5a5a5a"/>
<circle cx="164.3" cy="492.7" r="2.5" fill="#5a5a5a"/>
<circle cx="191.2" cy="489" r="2.5" fill="#5a5a5a"/>
<circle cx="211.3" cy="481.3" r="2.5" fill="#5a5a5a"/>
<circle cx="218.3" cy="489" r="2.5" fill="#5a5a5a"/>
<circle cx="225.2" cy="493" r="2.5" fill="#5a5a5a"/>
<circle cx="232.6" cy="494.1" r="2.5" fill="#5a5a5a"/>
<circle cx="198.2" cy="468" r="2.5" fill="#5a5a5a"/>
<circle cx="184.4" cy="500" r="2.5" fill="#5a5a5a"/>
<circle cx="143.3" cy="500" r="2.5" fill="#9a9a9a"/>
<circle cx="184.4" cy="503.5" r="2.5" fill="#9a9a9a"/>
<circle cx="198.2" cy="485.4" r="2.5" fill="#9a9a9a"/>
<circle cx="211.3" cy="485.4" r="2.5" fill="#9a9a9a"/>
<circle cx="239.3" cy="494.1" r="2.5" fill="#9a9a9a"/>
<circle cx="232.6" cy="500" r="2.5" fill="#9a9a9a"/>
<circle cx="218.3" cy="494" r="2.5" fill="#9a9a9a"/>
<circle cx="136.3" cy="505.1" r="2.5" fill="#cdcdcd"/>
<circle cx="170.4" cy="489" r="2.5" fill="#cdcdcd"/>
<circle cx="198.2" cy="489.5" r="2.5" fill="#cdcdcd"/>
<circle cx="211.3" cy="489.5" r="2.5" fill="#cdcdcd"/>
<circle cx="218.3" cy="500" r="2.5" fill="#cdcdcd"/>
<circle cx="225.2" cy="500" r="2.5" fill="#cdcdcd"/>
<circle cx="239.3" cy="500" r="2.5" fill="#cdcdcd"/>
<circle cx="143.3" cy="505.1" r="2.5" fill="#ffffff"/>
<circle cx="150.6" cy="500" r="2.5" fill="#ffffff"/>
<circle cx="164.3" cy="499.1" r="2.5" fill="#ffffff"/>
<circle cx="170.4" cy="492.7" r="2.5" fill="#ffffff"/>
<circle cx="177.7" cy="492.7" r="2.5" fill="#ffffff"/>
<circle cx="184.4" cy="509.5" r="2.5" fill="#ffffff"/>
<circle cx="191.2" cy="500" r="2.5" fill="#ffffff"/>
<circle cx="198.2" cy="492.7" r="2.5" fill="#ffffff"/>
<circle cx="204.6" cy="492.7" r="2.5" fill="#ffffff"/>
<circle cx="218.3" cy="509.5" r="2.5" fill="#ffffff"/>
<circle cx="225.2" cy="509.5" r="2.5" fill="#ffffff"/>
<circle cx="232.6" cy="509.5" r="2.5" fill="#ffffff"/>
<circle cx="239.3" cy="509.5" r="2.5" fill="#ffffff"/>
<circle cx="136.3" cy="508.2" r="2.5" fill="#ffffff"/>
<polyline points="135.5,470.9 143.2,470.9 149.5,465.5 158.6,463.3 178.6,463.3 189.5,468.2 196.8,470.9 205,470.9 215,471.5 222,471 232,470.5 240,469 246,468" fill="none" stroke="#ff9900" stroke-width="2.2" stroke-linejoin="round" stroke-linecap="round"/>
</g>
<g clip-path="url(#lCld)">
<rect x="135.5" y="523.5" width="110" height="78" fill="#87cefa"/>
<rect x="170.2" y="523.5" width="61.6" height="78" fill="#7bbdea"/>
<path d="M142.5 524V601M163.5 524V601M184.5 524V601M205.5 524V601M226.5 524V601M136 524.5H245M136 543.5H245M136 562.5H245M136 582.5H245" stroke="#87cefa" stroke-width="1" fill="none" shape-rendering="crispEdges"/>
<polygon points="165.4,602 167.3,584.8 172.2,569.1 180.1,563.1 188,557.2 193.9,547.4 199.8,544.4 203.7,543.5 209.6,529.7 215.6,524.8 233.3,524.8 237.2,531.7 244.1,542.5 246,545 246,602" fill="#ffffff"/>
<polygon points="184.1,602 191.9,571 198.8,530.7 205.7,531.7 211.6,525.8 219.5,524.8 231.3,524.8 238.2,535.6 246,541.5 246,602" fill="#a3a3a3"/>
<polygon points="135,602 135,575 143.7,563.1 150.6,575 158.5,582.8 165.4,586.8 168,602" fill="#585858"/>
<polygon points="138.8,602 149.6,590.7 162.4,602" fill="#2e2e2e"/>
<polygon points="174,602 176.2,592.7 184.1,569.1 191.9,571 198.8,592.7 203.7,597.6 212.6,602" fill="#585858"/>
<polygon points="212.6,602 212.6,570 217.5,549.4 225.4,535.6 233.3,539.5 241.1,555.3 246,569.1 246,602" fill="#585858"/>
<path d="M142.5 525V601M163.5 525V601M184.5 525V601M205.5 525V601M226.5 525V601M136 524.5H245M136 543.5H245M136 562.5H245M136 582.5H245" stroke="#000" stroke-width="1" stroke-dasharray="2 2" fill="none" shape-rendering="crispEdges"/>
<polyline points="231.3,524.8 238.2,535.6 245,545" fill="none" stroke="#ffffff" stroke-width="1" stroke-linejoin="round" stroke-linecap="round"/>
<polyline points="165.4,602 167.3,584.8 172.2,569.1 180.1,563.1 188,557.2 193.9,547.4 203.7,543.5 209.6,529.7 215.6,524.8" fill="none" stroke="#ffffff" stroke-width="0.8" stroke-linejoin="round" stroke-linecap="round"/>
<rect x="217.1" y="589.7" width="2.8" height="12.3" fill="#ffb800"/>
<rect x="224" y="589.7" width="2.8" height="12.3" fill="#ffb800"/>
<rect x="230.9" y="589.7" width="2.8" height="12.3" fill="#ffb800"/>
<rect x="237.8" y="589.7" width="2.8" height="12.3" fill="#ffb800"/>
<line x1="226.4" y1="589" x2="226.4" y2="602" stroke="#000" stroke-width="1" stroke-dasharray="2 2" shape-rendering="crispEdges"/>
</g>
<path d="M342.5 56V136 M757.5 56V136" stroke="#000" stroke-width="1" fill="none" shape-rendering="crispEdges"/>
<path d="M342 135.5H758" stroke="#000" stroke-width="1" fill="none" shape-rendering="crispEdges"/>
<rect x="342" y="56" width="416" height="1" fill="#606060"/>
<rect x="342" y="57" width="416" height="1" fill="#000" opacity="0.85"/>
<path d="M342.5 143V222 M757.5 143V222" stroke="#000" stroke-width="1" fill="none" shape-rendering="crispEdges"/>
<path d="M342 221.5H758" stroke="#10a010" stroke-width="1" fill="none" shape-rendering="crispEdges"/>
<path d="M343 221.5H757" stroke="#000" stroke-width="1" stroke-dasharray="2 2" fill="none" shape-rendering="crispEdges"/>
<rect x="342" y="143" width="416" height="1" fill="#606060"/>
<rect x="342" y="144" width="416" height="1" fill="#000" opacity="0.3"/>
<path d="M342.5 230V309 M757.5 230V309" stroke="#000" stroke-width="1" fill="none" shape-rendering="crispEdges"/>
<path d="M342 308.5H758" stroke="#000" stroke-width="1" fill="none" shape-rendering="crispEdges"/>
<rect x="342" y="230" width="416" height="1" fill="#606060"/>
<rect x="342" y="231" width="416" height="1" fill="#000" opacity="0.3"/>
<path d="M342.5 317V396 M757.5 317V396" stroke="#000" stroke-width="1" fill="none" shape-rendering="crispEdges"/>
<path d="M342 395.5H758" stroke="#000" stroke-width="1" fill="none" shape-rendering="crispEdges"/>
<rect x="342" y="317" width="416" height="1" fill="#606060"/>
<rect x="342" y="318" width="416" height="1" fill="#000" opacity="0.3"/>
<path d="M342.5 401V432 M757.5 401V432" stroke="#000" stroke-width="1" fill="none" shape-rendering="crispEdges"/>
<path d="M342 431.5H758" stroke="#000" stroke-width="1" fill="none" shape-rendering="crispEdges"/>
<rect x="342" y="401" width="416" height="1" fill="#606060"/>
<rect x="342" y="402" width="416" height="1" fill="#000" opacity="0.3"/>
<path d="M342.5 437V517 M757.5 437V517" stroke="#000" stroke-width="1" fill="none" shape-rendering="crispEdges"/>
<path d="M342 516.5H758" stroke="#5aa6dc" stroke-width="1" fill="none" shape-rendering="crispEdges"/>
<path d="M343 516.5H757" stroke="#000" stroke-width="1" stroke-dasharray="2 2" fill="none" shape-rendering="crispEdges"/>
<rect x="342" y="437" width="416" height="1" fill="#606060"/>
<rect x="342" y="438" width="416" height="1" fill="#000" opacity="0.3"/>
<path d="M342.5 525V604 M757.5 525V604" stroke="#000" stroke-width="1" fill="none" shape-rendering="crispEdges"/>
<path d="M342 603.5H758" stroke="#000" stroke-width="1" fill="none" shape-rendering="crispEdges"/>
<rect x="342" y="525" width="416" height="1" fill="#606060"/>
<rect x="342" y="526" width="416" height="1" fill="#000" opacity="0.3"/>
<path d="M135.5 57V135 M245.5 57V135" stroke="#000" stroke-width="1" fill="none" shape-rendering="crispEdges"/>
<path d="M135 134.5H246" stroke="#000" stroke-width="1" fill="none" shape-rendering="crispEdges"/>
<rect x="135" y="57" width="111" height="1" fill="#606060"/>
<rect x="135" y="58" width="111" height="1" fill="#000" opacity="0.3"/>
<path d="M135.5 143V221 M245.5 143V221" stroke="#000" stroke-width="1" fill="none" shape-rendering="crispEdges"/>
<path d="M135 220.5H246" stroke="#000" stroke-width="1" fill="none" shape-rendering="crispEdges"/>
<rect x="135" y="143" width="111" height="1" fill="#606060"/>
<rect x="135" y="144" width="111" height="1" fill="#000" opacity="0.3"/>
<path d="M135.5 229V307 M245.5 229V307" stroke="#000" stroke-width="1" fill="none" shape-rendering="crispEdges"/>
<path d="M135 306.5H246" stroke="#000" stroke-width="1" fill="none" shape-rendering="crispEdges"/>
<rect x="135" y="229" width="111" height="1" fill="#606060"/>
<rect x="135" y="230" width="111" height="1" fill="#000" opacity="0.3"/>
<path d="M135.5 315V393 M245.5 315V393" stroke="#000" stroke-width="1" fill="none" shape-rendering="crispEdges"/>
<path d="M135 392.5H246" stroke="#000" stroke-width="1" fill="none" shape-rendering="crispEdges"/>
<rect x="135" y="315" width="111" height="1" fill="#606060"/>
<rect x="135" y="316" width="111" height="1" fill="#000" opacity="0.3"/>
<path d="M135.5 398V431 M245.5 398V431" stroke="#000" stroke-width="1" fill="none" shape-rendering="crispEdges"/>
<path d="M135 430.5H246" stroke="#000" stroke-width="1" fill="none" shape-rendering="crispEdges"/>
<rect x="135" y="398" width="111" height="1" fill="#606060"/>
<rect x="135" y="399" width="111" height="1" fill="#000" opacity="0.3"/>
<path d="M135.5 436V515 M245.5 436V515" stroke="#000" stroke-width="1" fill="none" shape-rendering="crispEdges"/>
<path d="M135 514.5H246" stroke="#000" stroke-width="1" fill="none" shape-rendering="crispEdges"/>
<rect x="135" y="436" width="111" height="1" fill="#606060"/>
<rect x="135" y="437" width="111" height="1" fill="#000" opacity="0.3"/>
<path d="M135.5 523V602 M245.5 523V602" stroke="#000" stroke-width="1" fill="none" shape-rendering="crispEdges"/>
<path d="M135 601.5H246" stroke="#000" stroke-width="1" fill="none" shape-rendering="crispEdges"/>
<rect x="135" y="523" width="111" height="1" fill="#606060"/>
<rect x="135" y="524" width="111" height="1" fill="#000" opacity="0.3"/>
<rect x="342" y="136" width="416" height="1" fill="#cfe8fa"/>
<rect x="342" y="604" width="416" height="1" fill="#9fd2f4"/>
<text x="282" y="12.7" font-size="12.3" fill="#12128a" textLength="147" lengthAdjust="spacingAndGlyphs" stroke="#12128a" stroke-width="0.15">wschód słońca: 06:41 CET</text>
<text x="283.5" y="25.6" font-size="12.3" fill="#12128a" textLength="143" lengthAdjust="spacingAndGlyphs" stroke="#12128a" stroke-width="0.15">zachód słońca: 15:59 CET</text>
<text x="550.6" y="12.7" font-size="12.3" fill="#12128a" text-anchor="middle" textLength="128" lengthAdjust="spacingAndGlyphs" stroke="#12128a" stroke-width="0.15">20°54'43"E, 53°32'29"N</text>
<text x="550.3" y="25.6" font-size="12.3" fill="#12128a" text-anchor="middle" textLength="82.5" lengthAdjust="spacingAndGlyphs" stroke="#12128a" stroke-width="0.15">(x=248,  y=368)</text>
<text x="738.3" y="12.7" font-size="12.3" fill="#12128a" text-anchor="middle" textLength="158" lengthAdjust="spacingAndGlyphs" stroke="#12128a" stroke-width="0.15">wysokość (min, środek, max)</text>
<text x="738.5" y="25" font-size="12.3" fill="#12128a" text-anchor="middle" textLength="96" lengthAdjust="spacingAndGlyphs" stroke="#12128a" stroke-width="0.15">141 - 155 - 180 m</text>
<text x="376.7" y="41.4" font-size="12.5" fill="#000" text-anchor="middle" textLength="58.6" lengthAdjust="spacingAndGlyphs" stroke="#000" stroke-width="0.15">pon, 03.11</text>
<text x="545" y="41.4" font-size="12.5" fill="#000" text-anchor="middle" textLength="58.6" lengthAdjust="spacingAndGlyphs" stroke="#000" stroke-width="0.15">wto, 04.11</text>
<text x="714.6" y="41.4" font-size="12.5" fill="#000" text-anchor="middle" textLength="56.6" lengthAdjust="spacingAndGlyphs" stroke="#000" stroke-width="0.15">śro, 05.11</text>
<text x="318.7" y="54.3" font-size="12.5" fill="#000" text-anchor="middle" textLength="24.5" lengthAdjust="spacingAndGlyphs" stroke="#000" stroke-width="0.15">CET</text>
<text x="781.7" y="54.3" font-size="12.5" fill="#000" text-anchor="middle" textLength="24" lengthAdjust="spacingAndGlyphs" stroke="#000" stroke-width="0.15">CET</text>
<text x="356.9" y="54.3" font-size="12.5" fill="#000" text-anchor="middle" textLength="12.7" lengthAdjust="spacingAndGlyphs" stroke="#000" stroke-width="0.15">10</text>
<text x="399.1" y="54.3" font-size="12.5" fill="#000" text-anchor="middle" textLength="12.7" lengthAdjust="spacingAndGlyphs" stroke="#000" stroke-width="0.15">16</text>
<text x="441.3" y="54.3" font-size="12.5" fill="#000" text-anchor="middle" textLength="12.7" lengthAdjust="spacingAndGlyphs" stroke="#000" stroke-width="0.15">22</text>
<text x="483.5" y="54.3" font-size="12.5" fill="#000" text-anchor="middle" textLength="12.7" lengthAdjust="spacingAndGlyphs" stroke="#000" stroke-width="0.15">04</text>
<text x="525.7" y="54.3" font-size="12.5" fill="#000" text-anchor="middle" textLength="12.7" lengthAdjust="spacingAndGlyphs" stroke="#000" stroke-width="0.15">10</text>
<text x="567.9" y="54.3" font-size="12.5" fill="#000" text-anchor="middle" textLength="12.7" lengthAdjust="spacingAndGlyphs" stroke="#000" stroke-width="0.15">16</text>
<text x="610.1" y="54.3" font-size="12.5" fill="#000" text-anchor="middle" textLength="12.7" lengthAdjust="spacingAndGlyphs" stroke="#000" stroke-width="0.15">22</text>
<text x="652.3" y="54.3" font-size="12.5" fill="#000" text-anchor="middle" textLength="12.7" lengthAdjust="spacingAndGlyphs" stroke="#000" stroke-width="0.15">04</text>
<text x="694.5" y="54.3" font-size="12.5" fill="#000" text-anchor="middle" textLength="12.7" lengthAdjust="spacingAndGlyphs" stroke="#000" stroke-width="0.15">10</text>
<text x="736.7" y="54.3" font-size="12.5" fill="#000" text-anchor="middle" textLength="12.7" lengthAdjust="spacingAndGlyphs" stroke="#000" stroke-width="0.15">16</text>
<text x="318.5" y="616.6" font-size="12.5" fill="#000" text-anchor="middle" textLength="23.7" lengthAdjust="spacingAndGlyphs" stroke="#000" stroke-width="0.15">UTC</text>
<text x="781.4" y="616.6" font-size="12.5" fill="#000" text-anchor="middle" textLength="23.6" lengthAdjust="spacingAndGlyphs" stroke="#000" stroke-width="0.15">UTC</text>
<text x="356.6" y="616.6" font-size="12.5" fill="#000" text-anchor="middle" textLength="12.7" lengthAdjust="spacingAndGlyphs" stroke="#000" stroke-width="0.15">09</text>
<text x="398.8" y="616.6" font-size="12.5" fill="#000" text-anchor="middle" textLength="12.7" lengthAdjust="spacingAndGlyphs" stroke="#000" stroke-width="0.15">15</text>
<text x="441" y="616.6" font-size="12.5" fill="#000" text-anchor="middle" textLength="12.7" lengthAdjust="spacingAndGlyphs" stroke="#000" stroke-width="0.15">21</text>
<text x="483.2" y="616.6" font-size="12.5" fill="#000" text-anchor="middle" textLength="12.7" lengthAdjust="spacingAndGlyphs" stroke="#000" stroke-width="0.15">03</text>
<text x="525.4" y="616.6" font-size="12.5" fill="#000" text-anchor="middle" textLength="12.7" lengthAdjust="spacingAndGlyphs" stroke="#000" stroke-width="0.15">09</text>
<text x="567.6" y="616.6" font-size="12.5" fill="#000" text-anchor="middle" textLength="12.7" lengthAdjust="spacingAndGlyphs" stroke="#000" stroke-width="0.15">15</text>
<text x="609.8" y="616.6" font-size="12.5" fill="#000" text-anchor="middle" textLength="12.7" lengthAdjust="spacingAndGlyphs" stroke="#000" stroke-width="0.15">21</text>
<text x="652" y="616.6" font-size="12.5" fill="#000" text-anchor="middle" textLength="12.7" lengthAdjust="spacingAndGlyphs" stroke="#000" stroke-width="0.15">03</text>
<text x="694.2" y="616.6" font-size="12.5" fill="#000" text-anchor="middle" textLength="12.7" lengthAdjust="spacingAndGlyphs" stroke="#000" stroke-width="0.15">09</text>
<text x="736.4" y="616.6" font-size="12.5" fill="#000" text-anchor="middle" textLength="12.7" lengthAdjust="spacingAndGlyphs" stroke="#000" stroke-width="0.15">15</text>
<text x="377" y="629.3" font-size="12.5" fill="#000" text-anchor="middle" textLength="31.3" lengthAdjust="spacingAndGlyphs" stroke="#000" stroke-width="0.15">03.11</text>
<text x="545.2" y="629.3" font-size="12.5" fill="#000" text-anchor="middle" textLength="30.5" lengthAdjust="spacingAndGlyphs" stroke="#000" stroke-width="0.15">04.11</text>
<text x="714.2" y="629.3" font-size="12.5" fill="#000" text-anchor="middle" textLength="30.7" lengthAdjust="spacingAndGlyphs" stroke="#000" stroke-width="0.15">05.11</text>
<text x="5.2" y="651.2" font-size="9.5" fill="#000" stroke="#000" stroke-width="0.15">*</text>
<text x="11.5" y="651.2" font-size="9.2" fill="#000" textLength="96.5" lengthAdjust="spacingAndGlyphs" stroke="#000" stroke-width="0.15" font-stretch="condensed">powyżej poziomu morza</text>
<text x="299.9" y="652.5" font-size="13" fill="#12128a" textLength="108.6" lengthAdjust="spacingAndGlyphs" stroke="#12128a" stroke-width="0.15">meteo@icm.edu.pl</text>
<text x="553.7" y="652.7" font-size="13" fill="#12128a" textLength="251.8" lengthAdjust="spacingAndGlyphs" stroke="#12128a" stroke-width="0.15">© 2007-2025 ICM, Uniwersytet Warszawski</text>
<text transform="translate(292.6 96.5) rotate(-90)" x="0" y="0" font-size="12.2" fill="#12128a" text-anchor="middle" textLength="66.2" lengthAdjust="spacingAndGlyphs" stroke="#12128a" stroke-width="0.15">temperatura</text>
<text transform="translate(305 96.7) rotate(-90)" x="0" y="0" font-size="12.2" fill="#12128a" text-anchor="middle" textLength="20.5" lengthAdjust="spacingAndGlyphs" stroke="#12128a" stroke-width="0.15">(°C)</text>
<text transform="translate(292.6 184.9) rotate(-90)" x="0" y="0" font-size="12.2" fill="#12128a" text-anchor="middle" textLength="26.3" lengthAdjust="spacingAndGlyphs" stroke="#12128a" stroke-width="0.15">opad</text>
<text transform="translate(305 185) rotate(-90)" x="0" y="0" font-size="12.2" fill="#12128a" text-anchor="middle" textLength="84.6" lengthAdjust="spacingAndGlyphs" stroke="#12128a" stroke-width="0.15">(mm/h, kg/m²/h)</text>
<text transform="translate(292.6 272.8) rotate(-90)" x="0" y="0" font-size="12.2" fill="#12128a" text-anchor="middle" textLength="47.7" lengthAdjust="spacingAndGlyphs" stroke="#12128a" stroke-width="0.15">ciśnienie</text>
<text transform="translate(305 272.7) rotate(-90)" x="0" y="0" font-size="12.2" fill="#12128a" text-anchor="middle" textLength="28.6" lengthAdjust="spacingAndGlyphs" stroke="#12128a" stroke-width="0.15">(hPa)</text>
<text transform="translate(292.6 360.7) rotate(-90)" x="0" y="0" font-size="12.2" fill="#12128a" text-anchor="middle" textLength="26.6" lengthAdjust="spacingAndGlyphs" stroke="#12128a" stroke-width="0.15">wiatr</text>
<text transform="translate(305 360.7) rotate(-90)" x="0" y="0" font-size="12.2" fill="#12128a" text-anchor="middle" textLength="28.6" lengthAdjust="spacingAndGlyphs" stroke="#12128a" stroke-width="0.15">(m/s)</text>
<text transform="translate(292.6 512.8) rotate(-90)" x="0" y="0" font-size="12.2" fill="#12128a" text-anchor="middle" textLength="183.6" lengthAdjust="spacingAndGlyphs" stroke="#12128a" stroke-width="0.15">zachmurzenie  pion. rozciągł. chm.</text>
<text transform="translate(305 474.5) rotate(-90)" x="0" y="0" font-size="12.2" fill="#12128a" text-anchor="middle" textLength="23" lengthAdjust="spacingAndGlyphs" stroke="#12128a" stroke-width="0.15">(km)</text>
<text transform="translate(305 562.8) rotate(-90)" x="0" y="0" font-size="12.2" fill="#12128a" text-anchor="middle" textLength="45.6" lengthAdjust="spacingAndGlyphs" stroke="#12128a" stroke-width="0.15">(oktanty)</text>
<text transform="translate(803 96.5) rotate(-90)" x="0" y="0" font-size="12.2" fill="#12128a" text-anchor="middle" textLength="20" lengthAdjust="spacingAndGlyphs" stroke="#12128a" stroke-width="0.15">(°C)</text>
<text transform="translate(815.4 96.5) rotate(-90)" x="0" y="0" font-size="12.2" fill="#12128a" text-anchor="middle" textLength="66.2" lengthAdjust="spacingAndGlyphs" stroke="#12128a" stroke-width="0.15">temperatura</text>
<text transform="translate(803 185.6) rotate(-90)" x="0" y="0" font-size="12.2" fill="#12128a" text-anchor="middle" textLength="16.7" lengthAdjust="spacingAndGlyphs" stroke="#12128a" stroke-width="0.15">(%)</text>
<text transform="translate(815.4 185.5) rotate(-90)" x="0" y="0" font-size="12.2" fill="#12128a" text-anchor="middle" textLength="88.3" lengthAdjust="spacingAndGlyphs" stroke="#12128a" stroke-width="0.15">wilgotność wzgl.</text>
<text transform="translate(803 273) rotate(-90)" x="0" y="0" font-size="12.2" fill="#12128a" text-anchor="middle" textLength="47.7" lengthAdjust="spacingAndGlyphs" stroke="#12128a" stroke-width="0.15">(mm Hg)</text>
<text transform="translate(815.4 273) rotate(-90)" x="0" y="0" font-size="12.2" fill="#12128a" text-anchor="middle" textLength="47.7" lengthAdjust="spacingAndGlyphs" stroke="#12128a" stroke-width="0.15">ciśnienie</text>
<text transform="translate(803 361.5) rotate(-90)" x="0" y="0" font-size="12.2" fill="#12128a" text-anchor="middle" textLength="33" lengthAdjust="spacingAndGlyphs" stroke="#12128a" stroke-width="0.15">(km/h)</text>
<text transform="translate(815.4 361.2) rotate(-90)" x="0" y="0" font-size="12.2" fill="#12128a" text-anchor="middle" textLength="25.6" lengthAdjust="spacingAndGlyphs" stroke="#12128a" stroke-width="0.15">wiatr</text>
<text transform="translate(803 474.3) rotate(-90)" x="0" y="0" font-size="12.2" fill="#12128a" text-anchor="middle" textLength="23.4" lengthAdjust="spacingAndGlyphs" stroke="#12128a" stroke-width="0.15">(km)</text>
<text transform="translate(815.4 475) rotate(-90)" x="0" y="0" font-size="12.2" fill="#12128a" text-anchor="middle" textLength="62.9" lengthAdjust="spacingAndGlyphs" stroke="#12128a" stroke-width="0.15">widzialność</text>
<text transform="translate(803 562.7) rotate(-90)" x="0" y="0" font-size="12.2" fill="#12128a" text-anchor="middle" textLength="41.4" lengthAdjust="spacingAndGlyphs" stroke="#12128a" stroke-width="0.15">(frakcja)</text>
<text transform="translate(815.4 562.7) rotate(-90)" x="0" y="0" font-size="12.2" fill="#12128a" text-anchor="middle" textLength="27" lengthAdjust="spacingAndGlyphs" stroke="#12128a" stroke-width="0.15">mgła</text>
<text x="284" y="419.7" font-size="12" fill="#12128a" textLength="11.1" lengthAdjust="spacingAndGlyphs" stroke="#12128a" stroke-width="0.15">W</text>
<text x="295.1" y="411.1" font-size="12" fill="#12128a" textLength="7" lengthAdjust="spacingAndGlyphs" stroke="#12128a" stroke-width="0.15">N</text>
<text x="302" y="419.9" font-size="12" fill="#12128a" textLength="5.8" lengthAdjust="spacingAndGlyphs" stroke="#12128a" stroke-width="0.15">E</text>
<text x="295.1" y="427.9" font-size="12" fill="#12128a" textLength="6" lengthAdjust="spacingAndGlyphs" stroke="#12128a" stroke-width="0.15">S</text>
<text x="792.4" y="419.7" font-size="12" fill="#12128a" textLength="11.1" lengthAdjust="spacingAndGlyphs" stroke="#12128a" stroke-width="0.15">W</text>
<text x="803.5" y="411.1" font-size="12" fill="#12128a" textLength="7" lengthAdjust="spacingAndGlyphs" stroke="#12128a" stroke-width="0.15">N</text>
<text x="810.4" y="419.9" font-size="12" fill="#12128a" textLength="5.8" lengthAdjust="spacingAndGlyphs" stroke="#12128a" stroke-width="0.15">E</text>
<text x="803.5" y="427.9" font-size="12" fill="#12128a" textLength="6" lengthAdjust="spacingAndGlyphs" stroke="#12128a" stroke-width="0.15">S</text>
<text x="337.4" y="74.8" font-size="11.2" fill="#000" text-anchor="end" textLength="11.77" lengthAdjust="spacingAndGlyphs" stroke="#000" stroke-width="0.15">10</text>
<text x="337.4" y="93.8" font-size="11.2" fill="#000" text-anchor="end" textLength="5.89" lengthAdjust="spacingAndGlyphs" stroke="#000" stroke-width="0.15">8</text>
<text x="337.4" y="111.8" font-size="11.2" fill="#000" text-anchor="end" textLength="5.89" lengthAdjust="spacingAndGlyphs" stroke="#000" stroke-width="0.15">6</text>
<text x="337.4" y="130.8" font-size="11.2" fill="#000" text-anchor="end" textLength="5.89" lengthAdjust="spacingAndGlyphs" stroke="#000" stroke-width="0.15">4</text>
<text x="337.4" y="150.8" font-size="11.2" fill="#000" text-anchor="end" textLength="5.89" lengthAdjust="spacingAndGlyphs" stroke="#000" stroke-width="0.15">5</text>
<text x="337.4" y="165.8" font-size="11.2" fill="#000" text-anchor="end" textLength="5.89" lengthAdjust="spacingAndGlyphs" stroke="#000" stroke-width="0.15">4</text>
<text x="337.4" y="180.8" font-size="11.2" fill="#000" text-anchor="end" textLength="5.89" lengthAdjust="spacingAndGlyphs" stroke="#000" stroke-width="0.15">3</text>
<text x="337.4" y="195.8" font-size="11.2" fill="#000" text-anchor="end" textLength="5.89" lengthAdjust="spacingAndGlyphs" stroke="#000" stroke-width="0.15">2</text>
<text x="337.4" y="210.8" font-size="11.2" fill="#000" text-anchor="end" textLength="5.89" lengthAdjust="spacingAndGlyphs" stroke="#000" stroke-width="0.15">1</text>
<text x="337.4" y="225.8" font-size="11.2" fill="#000" text-anchor="end" textLength="5.89" lengthAdjust="spacingAndGlyphs" stroke="#000" stroke-width="0.15">0</text>
<text x="337.4" y="242.8" font-size="11.2" fill="#000" text-anchor="end" textLength="23.55" lengthAdjust="spacingAndGlyphs" stroke="#000" stroke-width="0.15">1025</text>
<text x="337.4" y="263.8" font-size="11.2" fill="#000" text-anchor="end" textLength="23.55" lengthAdjust="spacingAndGlyphs" stroke="#000" stroke-width="0.15">1020</text>
<text x="337.4" y="283.8" font-size="11.2" fill="#000" text-anchor="end" textLength="23.55" lengthAdjust="spacingAndGlyphs" stroke="#000" stroke-width="0.15">1015</text>
<text x="337.4" y="304.8" font-size="11.2" fill="#000" text-anchor="end" textLength="23.55" lengthAdjust="spacingAndGlyphs" stroke="#000" stroke-width="0.15">1010</text>
<text x="337.4" y="322.8" font-size="11.2" fill="#000" text-anchor="end" textLength="11.77" lengthAdjust="spacingAndGlyphs" stroke="#000" stroke-width="0.15">15</text>
<text x="337.4" y="348.8" font-size="11.2" fill="#000" text-anchor="end" textLength="11.77" lengthAdjust="spacingAndGlyphs" stroke="#000" stroke-width="0.15">10</text>
<text x="337.4" y="373.8" font-size="11.2" fill="#000" text-anchor="end" textLength="5.89" lengthAdjust="spacingAndGlyphs" stroke="#000" stroke-width="0.15">5</text>
<text x="337.4" y="399.8" font-size="11.2" fill="#000" text-anchor="end" textLength="5.89" lengthAdjust="spacingAndGlyphs" stroke="#000" stroke-width="0.15">0</text>
<text x="337.4" y="442.8" font-size="11.2" fill="#000" text-anchor="end" textLength="20.6" lengthAdjust="spacingAndGlyphs" stroke="#000" stroke-width="0.15">15.0</text>
<text x="337.4" y="461.8" font-size="11.2" fill="#000" text-anchor="end" textLength="14.72" lengthAdjust="spacingAndGlyphs" stroke="#000" stroke-width="0.15">7.0</text>
<text x="337.4" y="481.8" font-size="11.2" fill="#000" text-anchor="end" textLength="14.72" lengthAdjust="spacingAndGlyphs" stroke="#000" stroke-width="0.15">2.0</text>
<text x="337.4" y="500.8" font-size="11.2" fill="#000" text-anchor="end" textLength="14.72" lengthAdjust="spacingAndGlyphs" stroke="#000" stroke-width="0.15">0.5</text>
<text x="337.4" y="520.8" font-size="11.2" fill="#000" text-anchor="end" textLength="14.72" lengthAdjust="spacingAndGlyphs" stroke="#000" stroke-width="0.15">0.0</text>
<text x="337.4" y="530.8" font-size="11.2" fill="#000" text-anchor="end" textLength="5.89" lengthAdjust="spacingAndGlyphs" stroke="#000" stroke-width="0.15">8</text>
<text x="337.4" y="549.8" font-size="11.2" fill="#000" text-anchor="end" textLength="5.89" lengthAdjust="spacingAndGlyphs" stroke="#000" stroke-width="0.15">6</text>
<text x="337.4" y="568.8" font-size="11.2" fill="#000" text-anchor="end" textLength="5.89" lengthAdjust="spacingAndGlyphs" stroke="#000" stroke-width="0.15">4</text>
<text x="337.4" y="588.8" font-size="11.2" fill="#000" text-anchor="end" textLength="5.89" lengthAdjust="spacingAndGlyphs" stroke="#000" stroke-width="0.15">2</text>
<text x="337.4" y="607.8" font-size="11.2" fill="#000" text-anchor="end" textLength="5.89" lengthAdjust="spacingAndGlyphs" stroke="#000" stroke-width="0.15">0</text>
<text x="767.4" y="74.8" font-size="11.2" fill="#000" text-anchor="middle" textLength="11.77" lengthAdjust="spacingAndGlyphs" stroke="#000" stroke-width="0.15">10</text>
<text x="767.4" y="93.8" font-size="11.2" fill="#000" text-anchor="middle" textLength="5.89" lengthAdjust="spacingAndGlyphs" stroke="#000" stroke-width="0.15">8</text>
<text x="767.4" y="111.8" font-size="11.2" fill="#000" text-anchor="middle" textLength="5.89" lengthAdjust="spacingAndGlyphs" stroke="#000" stroke-width="0.15">6</text>
<text x="767.4" y="130.8" font-size="11.2" fill="#000" text-anchor="middle" textLength="5.89" lengthAdjust="spacingAndGlyphs" stroke="#000" stroke-width="0.15">4</text>
<text x="770.4" y="150.8" font-size="11.2" fill="#e2501e" text-anchor="middle" textLength="17.66" lengthAdjust="spacingAndGlyphs" stroke="#e2501e" stroke-width="0.15">100</text>
<text x="770.4" y="165.8" font-size="11.2" fill="#e2501e" text-anchor="middle" textLength="11.77" lengthAdjust="spacingAndGlyphs" stroke="#e2501e" stroke-width="0.15">95</text>
<text x="770.4" y="180.8" font-size="11.2" fill="#e2501e" text-anchor="middle" textLength="11.77" lengthAdjust="spacingAndGlyphs" stroke="#e2501e" stroke-width="0.15">90</text>
<text x="770.4" y="195.8" font-size="11.2" fill="#e2501e" text-anchor="middle" textLength="11.77" lengthAdjust="spacingAndGlyphs" stroke="#e2501e" stroke-width="0.15">85</text>
<text x="770.4" y="210.8" font-size="11.2" fill="#e2501e" text-anchor="middle" textLength="11.77" lengthAdjust="spacingAndGlyphs" stroke="#e2501e" stroke-width="0.15">80</text>
<text x="770.4" y="225.8" font-size="11.2" fill="#e2501e" text-anchor="middle" textLength="11.77" lengthAdjust="spacingAndGlyphs" stroke="#e2501e" stroke-width="0.15">75</text>
<text x="770.4" y="242.8" font-size="11.2" fill="#000" text-anchor="middle" textLength="17.66" lengthAdjust="spacingAndGlyphs" stroke="#000" stroke-width="0.15">769</text>
<text x="770.4" y="263.8" font-size="11.2" fill="#000" text-anchor="middle" textLength="17.66" lengthAdjust="spacingAndGlyphs" stroke="#000" stroke-width="0.15">765</text>
<text x="770.4" y="283.8" font-size="11.2" fill="#000" text-anchor="middle" textLength="17.66" lengthAdjust="spacingAndGlyphs" stroke="#000" stroke-width="0.15">761</text>
<text x="770.4" y="304.8" font-size="11.2" fill="#000" text-anchor="middle" textLength="17.66" lengthAdjust="spacingAndGlyphs" stroke="#000" stroke-width="0.15">758</text>
<text x="767.4" y="322.8" font-size="11.2" fill="#000" text-anchor="middle" textLength="11.77" lengthAdjust="spacingAndGlyphs" stroke="#000" stroke-width="0.15">54</text>
<text x="767.4" y="348.8" font-size="11.2" fill="#000" text-anchor="middle" textLength="11.77" lengthAdjust="spacingAndGlyphs" stroke="#000" stroke-width="0.15">36</text>
<text x="767.4" y="373.8" font-size="11.2" fill="#000" text-anchor="middle" textLength="11.77" lengthAdjust="spacingAndGlyphs" stroke="#000" stroke-width="0.15">18</text>
<text x="767.4" y="399.8" font-size="11.2" fill="#000" text-anchor="middle" textLength="5.89" lengthAdjust="spacingAndGlyphs" stroke="#000" stroke-width="0.15">0</text>
<text x="761.8" y="442.8" font-size="11.2" fill="#ff8000" textLength="17.66" lengthAdjust="spacingAndGlyphs" stroke="#ff8000" stroke-width="0.15">100</text>
<text x="761.8" y="461.8" font-size="11.2" fill="#ff8000" textLength="11.77" lengthAdjust="spacingAndGlyphs" stroke="#ff8000" stroke-width="0.15">20</text>
<text x="761.8" y="481.8" font-size="11.2" fill="#ff8000" textLength="5.89" lengthAdjust="spacingAndGlyphs" stroke="#ff8000" stroke-width="0.15">5</text>
<text x="761.8" y="500.8" font-size="11.2" fill="#ff8000" textLength="5.89" lengthAdjust="spacingAndGlyphs" stroke="#ff8000" stroke-width="0.15">1</text>
<text x="761.8" y="520.8" font-size="11.2" fill="#ff8000" textLength="5.89" lengthAdjust="spacingAndGlyphs" stroke="#ff8000" stroke-width="0.15">0</text>
<text x="761.7" y="530.8" font-size="11.2" fill="#ff8000" textLength="5.89" lengthAdjust="spacingAndGlyphs" stroke="#ff8000" stroke-width="0.15">1</text>
<text x="761.7" y="549.8" font-size="11.2" fill="#ff8000" textLength="20.6" lengthAdjust="spacingAndGlyphs" stroke="#ff8000" stroke-width="0.15">0.75</text>
<text x="761.7" y="568.8" font-size="11.2" fill="#ff8000" textLength="14.72" lengthAdjust="spacingAndGlyphs" stroke="#ff8000" stroke-width="0.15">0.5</text>
<text x="761.7" y="588.8" font-size="11.2" fill="#ff8000" textLength="20.6" lengthAdjust="spacingAndGlyphs" stroke="#ff8000" stroke-width="0.15">0.25</text>
<text x="761.7" y="607.8" font-size="11.2" fill="#ff8000" textLength="5.89" lengthAdjust="spacingAndGlyphs" stroke="#ff8000" stroke-width="0.15">0</text>
<text x="128.3" y="63.8" font-size="11.2" fill="#000" text-anchor="end" textLength="11.77" lengthAdjust="spacingAndGlyphs" stroke="#000" stroke-width="0.15">30</text>
<text x="128.3" y="81.8" font-size="11.2" fill="#000" text-anchor="end" textLength="11.77" lengthAdjust="spacingAndGlyphs" stroke="#000" stroke-width="0.15">20</text>
<text x="128.3" y="98.8" font-size="11.2" fill="#000" text-anchor="end" textLength="11.77" lengthAdjust="spacingAndGlyphs" stroke="#000" stroke-width="0.15">10</text>
<text x="128.3" y="115.8" font-size="11.2" fill="#000" text-anchor="end" textLength="5.89" lengthAdjust="spacingAndGlyphs" stroke="#000" stroke-width="0.15">0</text>
<text x="128.3" y="133.8" font-size="11.2" fill="#000" text-anchor="end" textLength="15.3" lengthAdjust="spacingAndGlyphs" stroke="#000" stroke-width="0.15">-10</text>
<text x="128.3" y="154.8" font-size="11.2" fill="#000" text-anchor="end" textLength="14.72" lengthAdjust="spacingAndGlyphs" stroke="#000" stroke-width="0.15">2.0</text>
<text x="128.3" y="172.8" font-size="11.2" fill="#000" text-anchor="end" textLength="14.72" lengthAdjust="spacingAndGlyphs" stroke="#000" stroke-width="0.15">1.5</text>
<text x="128.3" y="189.8" font-size="11.2" fill="#000" text-anchor="end" textLength="14.72" lengthAdjust="spacingAndGlyphs" stroke="#000" stroke-width="0.15">1.0</text>
<text x="128.3" y="207.8" font-size="11.2" fill="#000" text-anchor="end" textLength="14.72" lengthAdjust="spacingAndGlyphs" stroke="#000" stroke-width="0.15">0.5</text>
<text x="128.3" y="224.8" font-size="11.2" fill="#000" text-anchor="end" textLength="14.72" lengthAdjust="spacingAndGlyphs" stroke="#000" stroke-width="0.15">0.0</text>
<text x="128.3" y="235.8" font-size="11.2" fill="#000" text-anchor="end" textLength="23.55" lengthAdjust="spacingAndGlyphs" stroke="#000" stroke-width="0.15">1018</text>
<text x="128.3" y="258.8" font-size="11.2" fill="#000" text-anchor="end" textLength="23.55" lengthAdjust="spacingAndGlyphs" stroke="#000" stroke-width="0.15">1016</text>
<text x="128.3" y="282.8" font-size="11.2" fill="#000" text-anchor="end" textLength="23.55" lengthAdjust="spacingAndGlyphs" stroke="#000" stroke-width="0.15">1014</text>
<text x="128.3" y="305.8" font-size="11.2" fill="#000" text-anchor="end" textLength="23.55" lengthAdjust="spacingAndGlyphs" stroke="#000" stroke-width="0.15">1012</text>
<text x="128.3" y="319.8" font-size="11.2" fill="#000" text-anchor="end" textLength="11.77" lengthAdjust="spacingAndGlyphs" stroke="#000" stroke-width="0.15">20</text>
<text x="128.3" y="338.8" font-size="11.2" fill="#000" text-anchor="end" textLength="11.77" lengthAdjust="spacingAndGlyphs" stroke="#000" stroke-width="0.15">15</text>
<text x="128.3" y="358.8" font-size="11.2" fill="#000" text-anchor="end" textLength="11.77" lengthAdjust="spacingAndGlyphs" stroke="#000" stroke-width="0.15">10</text>
<text x="128.3" y="376.8" font-size="11.2" fill="#000" text-anchor="end" textLength="5.89" lengthAdjust="spacingAndGlyphs" stroke="#000" stroke-width="0.15">5</text>
<text x="128.3" y="396.8" font-size="11.2" fill="#000" text-anchor="end" textLength="5.89" lengthAdjust="spacingAndGlyphs" stroke="#000" stroke-width="0.15">0</text>
<text x="128.3" y="440.8" font-size="11.2" fill="#000" text-anchor="end" textLength="20.6" lengthAdjust="spacingAndGlyphs" stroke="#000" stroke-width="0.15">15.0</text>
<text x="128.3" y="459.8" font-size="11.2" fill="#000" text-anchor="end" textLength="14.72" lengthAdjust="spacingAndGlyphs" stroke="#000" stroke-width="0.15">7.0</text>
<text x="128.3" y="479.8" font-size="11.2" fill="#000" text-anchor="end" textLength="14.72" lengthAdjust="spacingAndGlyphs" stroke="#000" stroke-width="0.15">2.0</text>
<text x="128.3" y="499.8" font-size="11.2" fill="#000" text-anchor="end" textLength="14.72" lengthAdjust="spacingAndGlyphs" stroke="#000" stroke-width="0.15">0.5</text>
<text x="128.3" y="518.8" font-size="11.2" fill="#000" text-anchor="end" textLength="14.72" lengthAdjust="spacingAndGlyphs" stroke="#000" stroke-width="0.15">0.0</text>
<text x="128.3" y="527.8" font-size="11.2" fill="#000" text-anchor="end" textLength="5.89" lengthAdjust="spacingAndGlyphs" stroke="#000" stroke-width="0.15">8</text>
<text x="128.3" y="547.8" font-size="11.2" fill="#000" text-anchor="end" textLength="5.89" lengthAdjust="spacingAndGlyphs" stroke="#000" stroke-width="0.15">6</text>
<text x="128.3" y="566.8" font-size="11.2" fill="#000" text-anchor="end" textLength="5.89" lengthAdjust="spacingAndGlyphs" stroke="#000" stroke-width="0.15">4</text>
<text x="128.3" y="586.8" font-size="11.2" fill="#000" text-anchor="end" textLength="5.89" lengthAdjust="spacingAndGlyphs" stroke="#000" stroke-width="0.15">2</text>
<text x="128.3" y="605.8" font-size="11.2" fill="#000" text-anchor="end" textLength="5.89" lengthAdjust="spacingAndGlyphs" stroke="#000" stroke-width="0.15">0</text>
<text x="266" y="63.8" font-size="11.2" fill="#000" text-anchor="end" textLength="11.77" lengthAdjust="spacingAndGlyphs" stroke="#000" stroke-width="0.15">30</text>
<text x="266" y="81.8" font-size="11.2" fill="#000" text-anchor="end" textLength="11.77" lengthAdjust="spacingAndGlyphs" stroke="#000" stroke-width="0.15">20</text>
<text x="266" y="98.8" font-size="11.2" fill="#000" text-anchor="end" textLength="11.77" lengthAdjust="spacingAndGlyphs" stroke="#000" stroke-width="0.15">10</text>
<text x="266" y="115.8" font-size="11.2" fill="#000" text-anchor="end" textLength="5.89" lengthAdjust="spacingAndGlyphs" stroke="#000" stroke-width="0.15">0</text>
<text x="266" y="133.8" font-size="11.2" fill="#000" text-anchor="end" textLength="15.3" lengthAdjust="spacingAndGlyphs" stroke="#000" stroke-width="0.15">-10</text>
<text x="253.6" y="154.8" font-size="11.2" fill="#e2501e" textLength="11.77" lengthAdjust="spacingAndGlyphs" stroke="#e2501e" stroke-width="0.15">96</text>
<text x="253.6" y="172.8" font-size="11.2" fill="#e2501e" textLength="11.77" lengthAdjust="spacingAndGlyphs" stroke="#e2501e" stroke-width="0.15">84</text>
<text x="253.6" y="189.8" font-size="11.2" fill="#e2501e" textLength="11.77" lengthAdjust="spacingAndGlyphs" stroke="#e2501e" stroke-width="0.15">73</text>
<text x="253.6" y="207.8" font-size="11.2" fill="#e2501e" textLength="11.77" lengthAdjust="spacingAndGlyphs" stroke="#e2501e" stroke-width="0.15">61</text>
<text x="253.6" y="224.8" font-size="11.2" fill="#e2501e" textLength="11.77" lengthAdjust="spacingAndGlyphs" stroke="#e2501e" stroke-width="0.15">50</text>
<text x="250.6" y="235.8" font-size="11.2" fill="#000" textLength="23.55" lengthAdjust="spacingAndGlyphs" stroke="#000" stroke-width="0.15">1018</text>
<text x="250.6" y="258.8" font-size="11.2" fill="#000" textLength="23.55" lengthAdjust="spacingAndGlyphs" stroke="#000" stroke-width="0.15">1016</text>
<text x="250.6" y="282.8" font-size="11.2" fill="#000" textLength="23.55" lengthAdjust="spacingAndGlyphs" stroke="#000" stroke-width="0.15">1014</text>
<text x="250.6" y="305.8" font-size="11.2" fill="#000" textLength="23.55" lengthAdjust="spacingAndGlyphs" stroke="#000" stroke-width="0.15">1012</text>
<text x="256.6" y="319.8" font-size="11.2" fill="#000" text-anchor="middle" textLength="11.77" lengthAdjust="spacingAndGlyphs" stroke="#000" stroke-width="0.15">72</text>
<text x="256.6" y="338.8" font-size="11.2" fill="#000" text-anchor="middle" textLength="11.77" lengthAdjust="spacingAndGlyphs" stroke="#000" stroke-width="0.15">54</text>
<text x="256.6" y="358.8" font-size="11.2" fill="#000" text-anchor="middle" textLength="11.77" lengthAdjust="spacingAndGlyphs" stroke="#000" stroke-width="0.15">36</text>
<text x="256.6" y="376.8" font-size="11.2" fill="#000" text-anchor="middle" textLength="11.77" lengthAdjust="spacingAndGlyphs" stroke="#000" stroke-width="0.15">18</text>
<text x="256.6" y="396.8" font-size="11.2" fill="#000" text-anchor="middle" textLength="5.89" lengthAdjust="spacingAndGlyphs" stroke="#000" stroke-width="0.15">0</text>
<text x="251.2" y="440.8" font-size="11.2" fill="#ff8000" textLength="17.66" lengthAdjust="spacingAndGlyphs" stroke="#ff8000" stroke-width="0.15">100</text>
<text x="251.2" y="460.8" font-size="11.2" fill="#ff8000" textLength="11.77" lengthAdjust="spacingAndGlyphs" stroke="#ff8000" stroke-width="0.15">20</text>
<text x="251.2" y="479.8" font-size="11.2" fill="#ff8000" textLength="5.89" lengthAdjust="spacingAndGlyphs" stroke="#ff8000" stroke-width="0.15">5</text>
<text x="251.2" y="499.8" font-size="11.2" fill="#ff8000" textLength="5.89" lengthAdjust="spacingAndGlyphs" stroke="#ff8000" stroke-width="0.15">1</text>
<text x="251.2" y="518.8" font-size="11.2" fill="#ff8000" textLength="5.89" lengthAdjust="spacingAndGlyphs" stroke="#ff8000" stroke-width="0.15">0</text>
<text x="251" y="527.8" font-size="11.2" fill="#ff8000" textLength="5.89" lengthAdjust="spacingAndGlyphs" stroke="#ff8000" stroke-width="0.15">1</text>
<text x="251" y="547.8" font-size="11.2" fill="#ff8000" textLength="20.6" lengthAdjust="spacingAndGlyphs" stroke="#ff8000" stroke-width="0.15">0.75</text>
<text x="251" y="566.8" font-size="11.2" fill="#ff8000" textLength="14.72" lengthAdjust="spacingAndGlyphs" stroke="#ff8000" stroke-width="0.15">0.5</text>
<text x="251" y="586.8" font-size="11.2" fill="#ff8000" textLength="20.6" lengthAdjust="spacingAndGlyphs" stroke="#ff8000" stroke-width="0.15">0.25</text>
<text x="251" y="605.8" font-size="11.2" fill="#ff8000" textLength="5.89" lengthAdjust="spacingAndGlyphs" stroke="#ff8000" stroke-width="0.15">0</text>
<text x="163.8" y="51.2" font-size="12" fill="#000" text-anchor="middle" textLength="12.68" lengthAdjust="spacingAndGlyphs" stroke="#000" stroke-width="0.15">20</text>
<text x="204" y="51.2" font-size="12" fill="#000" text-anchor="middle" textLength="12.68" lengthAdjust="spacingAndGlyphs" stroke="#000" stroke-width="0.15">02</text>
<text x="244.6" y="51.2" font-size="12" fill="#000" text-anchor="middle" textLength="12.68" lengthAdjust="spacingAndGlyphs" stroke="#000" stroke-width="0.15">08</text>
<text x="163.6" y="614.3" font-size="12" fill="#000" text-anchor="middle" textLength="12.68" lengthAdjust="spacingAndGlyphs" stroke="#000" stroke-width="0.15">18</text>
<text x="203.7" y="614.3" font-size="12" fill="#000" text-anchor="middle" textLength="12.68" lengthAdjust="spacingAndGlyphs" stroke="#000" stroke-width="0.15">00</text>
<text x="244.7" y="614.3" font-size="12" fill="#000" text-anchor="middle" textLength="12.68" lengthAdjust="spacingAndGlyphs" stroke="#000" stroke-width="0.15">06</text>
<text x="6" y="17.6" font-size="11" fill="#000" textLength="59" lengthAdjust="spacingAndGlyphs" stroke="#000" stroke-width="0.08">Czas lokalny</text>
<text x="6" y="29.9" font-size="11" fill="#000" textLength="54.6" lengthAdjust="spacingAndGlyphs" stroke="#000" stroke-width="0.08">(CET/CEST)</text>
<text x="6" y="45.8" font-size="11" fill="#ae1c1c" textLength="93.4" lengthAdjust="spacingAndGlyphs" stroke="#ae1c1c" stroke-width="0.08">Temperatura gruntu</text>
<text x="27.3" y="55.5" font-size="11" fill="#ae1c1c" textLength="38.9" lengthAdjust="spacingAndGlyphs" stroke="#ae1c1c" stroke-width="0.08">max/min</text>
<text x="6" y="67" font-size="11" fill="#000" textLength="62" lengthAdjust="spacingAndGlyphs" stroke="#000" stroke-width="0.08">Temperatura:</text>
<text x="12.8" y="79.6" font-size="11" fill="#ff0000" textLength="76.8" lengthAdjust="spacingAndGlyphs" stroke="#ff0000" stroke-width="0.08">punkt środkowy</text>
<text x="27.7" y="89.4" font-size="11" fill="#ffc8b8" textLength="38.5" lengthAdjust="spacingAndGlyphs" stroke="#ffc8b8" stroke-width="0.08">max/min</text>
<text x="9.9" y="101.3" font-size="11" fill="#0000ff" textLength="57" lengthAdjust="spacingAndGlyphs" stroke="#0000ff" stroke-width="0.08">odczuwana</text>
<text x="27.7" y="111.2" font-size="11" fill="#a8d8ff" textLength="38.5" lengthAdjust="spacingAndGlyphs" stroke="#a8d8ff" stroke-width="0.08">max/min</text>
<text x="6.5" y="123.2" font-size="11" fill="#6464d2" textLength="86.5" lengthAdjust="spacingAndGlyphs" stroke="#6464d2" stroke-width="0.08">Temp. punktu rosy</text>
<text x="6" y="140.8" font-size="11" fill="#ff0000" textLength="93.9" lengthAdjust="spacingAndGlyphs" stroke="#ff0000" stroke-width="0.08">Opad powyżej skali</text>
<text x="6" y="154.5" font-size="11" fill="#e2501e" textLength="97.3" lengthAdjust="spacingAndGlyphs" stroke="#e2501e" stroke-width="0.08">Wilgotność względna</text>
<text x="6" y="168.6" font-size="11" fill="#000" textLength="84.5" lengthAdjust="spacingAndGlyphs" stroke="#000" stroke-width="0.08">Wystąpienie burzy</text>
<text x="6" y="182.3" font-size="11" fill="#14a014" textLength="39" lengthAdjust="spacingAndGlyphs" stroke="#14a014" stroke-width="0.08">Deszcz:</text>
<text x="49.5" y="182.3" font-size="11" fill="#14a014" textLength="19.6" lengthAdjust="spacingAndGlyphs" stroke="#14a014" stroke-width="0.08">max</text>
<text x="49.5" y="193.2" font-size="11" fill="#14a014" textLength="29" lengthAdjust="spacingAndGlyphs" stroke="#14a014" stroke-width="0.08">średni</text>
<text x="6" y="204.8" font-size="11" fill="#2244d4" textLength="29" lengthAdjust="spacingAndGlyphs" stroke="#2244d4" stroke-width="0.08">Śnieg:</text>
<text x="49.5" y="204.8" font-size="11" fill="#2244d4" textLength="19.6" lengthAdjust="spacingAndGlyphs" stroke="#2244d4" stroke-width="0.08">max</text>
<text x="49.5" y="215.9" font-size="11" fill="#2244d4" textLength="29" lengthAdjust="spacingAndGlyphs" stroke="#2244d4" stroke-width="0.08">średni</text>
<text x="5.1" y="227.8" font-size="11" fill="#ff0000" textLength="89.1" lengthAdjust="spacingAndGlyphs" stroke="#ff0000" stroke-width="0.08">Wystąpienie opadu</text>
<text x="5.5" y="240.3" font-size="11" fill="#ff0000" textLength="71.7" lengthAdjust="spacingAndGlyphs" stroke="#ff0000" stroke-width="0.08">konwekcyjnego</text>
<text x="4.8" y="266.2" font-size="11" fill="#000" textLength="42.2" lengthAdjust="spacingAndGlyphs" stroke="#000" stroke-width="0.08">Ciśnienie</text>
<text x="4.8" y="279.5" font-size="11" fill="#000" textLength="66.1" lengthAdjust="spacingAndGlyphs" stroke="#000" stroke-width="0.08">zredukowane</text>
<text x="4.8" y="292.7" font-size="11" fill="#000" textLength="87.4" lengthAdjust="spacingAndGlyphs" stroke="#000" stroke-width="0.08">do poziomu morza</text>
<text x="5.1" y="321.7" font-size="11" fill="#000" textLength="66.3" lengthAdjust="spacingAndGlyphs" stroke="#000" stroke-width="0.08">Wiatr na 10m:</text>
<text x="9.9" y="337.4" font-size="11" fill="#ff0000" textLength="100.7" lengthAdjust="spacingAndGlyphs" stroke="#ff0000" stroke-width="0.08">poryw powyżej skali</text>
<text x="9.9" y="351.4" font-size="11" fill="#ff0000" textLength="94.2" lengthAdjust="spacingAndGlyphs" stroke="#ff0000" stroke-width="0.08">max porywy wiatru</text>
<text x="9.9" y="371.2" font-size="11" fill="#1414a0" textLength="78.5" lengthAdjust="spacingAndGlyphs" stroke="#1414a0" stroke-width="0.08">prędkość wiatru</text>
<text x="9.9" y="384.4" font-size="11" fill="#1414a0" textLength="88.8" lengthAdjust="spacingAndGlyphs" stroke="#1414a0" stroke-width="0.08">w środku obszaru</text>
<text x="9.9" y="412.1" font-size="11" fill="#1414a0" textLength="73.4" lengthAdjust="spacingAndGlyphs" stroke="#1414a0" stroke-width="0.08">kierunek wiatru</text>
<text x="6" y="432.2" font-size="11" fill="#ae1c1c" textLength="90.5" lengthAdjust="spacingAndGlyphs" stroke="#ae1c1c" stroke-width="0.08">Wierzchołek chmur</text>
<text x="6" y="447.1" font-size="11" fill="#000" textLength="84.5" lengthAdjust="spacingAndGlyphs" stroke="#000" stroke-width="0.08">Podstawa chmur*</text>
<text x="6" y="458.2" font-size="11" fill="#000" textLength="47" lengthAdjust="spacingAndGlyphs" stroke="#000" stroke-width="0.08">o pokryciu</text>
<text x="10.6" y="471" font-size="11" fill="#000" textLength="43.7" lengthAdjust="spacingAndGlyphs" stroke="#000" stroke-width="0.08">&gt; 7.9 okt.</text>
<text x="10.6" y="482" font-size="11" fill="#606060" textLength="43.7" lengthAdjust="spacingAndGlyphs" stroke="#606060" stroke-width="0.08">&gt; 6.5 okt.</text>
<text x="10.2" y="493.3" font-size="11" fill="#909090" textLength="44" lengthAdjust="spacingAndGlyphs" stroke="#909090" stroke-width="0.08">&gt; 4.5 okt.</text>
<text x="10.2" y="503" font-size="11" fill="#cacaca" textLength="44" lengthAdjust="spacingAndGlyphs" stroke="#cacaca" stroke-width="0.08">&gt; 2.5 okt.</text>
<rect x="11.1" y="505.3" width="43.9" height="11.4" fill="#80c8f4"/>
<text x="11.5" y="514.6" font-size="11" fill="#ffffff" textLength="43.5" lengthAdjust="spacingAndGlyphs" stroke="#ffffff" stroke-width="0.08">&gt; 0.1 okt.</text>
<text x="6" y="529.5" font-size="11" fill="#ff8000" textLength="57.2" lengthAdjust="spacingAndGlyphs" stroke="#ff8000" stroke-width="0.08">Widzialność</text>
<text x="6" y="546.6" font-size="11" fill="#000" textLength="38.7" lengthAdjust="spacingAndGlyphs" stroke="#000" stroke-width="0.08">Chmury:</text>
<rect x="10.6" y="551.7" width="40.3" height="11.1" fill="#80c8f4"/>
<text x="11" y="560.6" font-size="11" fill="#ffffff" textLength="39.5" lengthAdjust="spacingAndGlyphs" stroke="#ffffff" stroke-width="0.08">wysokie</text>
<text x="9.9" y="572.2" font-size="11" fill="#a0a0a0" textLength="35.3" lengthAdjust="spacingAndGlyphs" stroke="#a0a0a0" stroke-width="0.08">średnie</text>
<text x="9.9" y="584.8" font-size="11" fill="#505050" textLength="26.3" lengthAdjust="spacingAndGlyphs" stroke="#505050" stroke-width="0.08">niskie</text>
<text x="9.9" y="596.2" font-size="11" fill="#303030" textLength="61" lengthAdjust="spacingAndGlyphs" stroke="#303030" stroke-width="0.08">bardzo niskie</text>
<text x="6" y="608.7" font-size="11" fill="#ffb000" textLength="20" lengthAdjust="spacingAndGlyphs" stroke="#ffb000" stroke-width="0.08">Mgła</text>
<text x="6" y="625.7" font-size="11" fill="#000" textLength="130.6" lengthAdjust="spacingAndGlyphs" stroke="#000" stroke-width="0.08">Czas uniwersalny (UTC)</text>
<polyline points="68.3,16.4 133.2,16.4 155.9,44.5" fill="none" stroke="#000" stroke-width="1" stroke-linejoin="round" stroke-linecap="round" stroke-linecap="butt"/>
<polyline points="102.3,44.2 119.5,44.2 149.5,83.6" fill="none" stroke="#ae1c1c" stroke-width="1" stroke-linejoin="round" stroke-linecap="round" stroke-linecap="butt"/>
<polyline points="92.2,76.4 114.7,76.4" fill="none" stroke="#ff0000" stroke-width="1" stroke-linejoin="round" stroke-linecap="round" stroke-linecap="butt"/>
<polyline points="130.5,76.4 133.2,78.2 171.4,111" fill="none" stroke="#ff0000" stroke-width="1" stroke-linejoin="round" stroke-linecap="round" stroke-linecap="butt"/>
<polyline points="70,99.5 130.5,99.5 136,101.8" fill="none" stroke="#0000ff" stroke-width="1" stroke-linejoin="round" stroke-linecap="round" stroke-linecap="butt"/>
<polyline points="95.6,120 130.5,120 138.6,114.5 141.4,112.7" fill="none" stroke="#6464d2" stroke-width="1" stroke-linejoin="round" stroke-linecap="round" stroke-linecap="butt"/>
<polyline points="103.2,137.4 141.4,137.4 145.9,146.8" fill="none" stroke="#ff0000" stroke-width="1" stroke-linejoin="round" stroke-linecap="round" stroke-linecap="butt"/>
<polyline points="106.3,151.4 111.7,151.4" fill="none" stroke="#e2501e" stroke-width="1" stroke-linejoin="round" stroke-linecap="round" stroke-linecap="butt"/>
<polyline points="129.5,151.4 132.3,152.3 145,159.5" fill="none" stroke="#e2501e" stroke-width="1" stroke-linejoin="round" stroke-linecap="round" stroke-linecap="butt"/>
<polyline points="93.9,165.9 112.3,165.9" fill="none" stroke="#000" stroke-width="1" stroke-linejoin="round" stroke-linecap="round" stroke-linecap="butt"/>
<polyline points="129.5,165.9 132.3,166.8 138.3,171.4" fill="none" stroke="#000" stroke-width="1" stroke-linejoin="round" stroke-linecap="round" stroke-linecap="butt"/>
<polyline points="71.4,179.2 139.5,179.2" fill="none" stroke="#14a014" stroke-width="1" stroke-linejoin="round" stroke-linecap="round" stroke-linecap="butt"/>
<polyline points="80.2,190.1 135.9,190.1" fill="none" stroke="#14a014" stroke-width="1" stroke-linejoin="round" stroke-linecap="round" stroke-linecap="butt"/>
<polyline points="70,202.3 112.3,202.3" fill="none" stroke="#2244d4" stroke-width="1" stroke-linejoin="round" stroke-linecap="round" stroke-linecap="butt"/>
<polyline points="128.6,202.3 132.3,201.4 160.5,171.9" fill="none" stroke="#2244d4" stroke-width="1" stroke-linejoin="round" stroke-linecap="round" stroke-linecap="butt"/>
<polyline points="81.6,213.7 132.3,213.7 156.8,187.7" fill="none" stroke="#2244d4" stroke-width="1" stroke-linejoin="round" stroke-linecap="round" stroke-linecap="butt"/>
<polyline points="97.3,224.6 145,224.6 147.7,219.5" fill="none" stroke="#ff0000" stroke-width="1" stroke-linejoin="round" stroke-linecap="round" stroke-linecap="butt"/>
<polyline points="51.2,264.5 131.5,264.5 136,261" fill="none" stroke="#000" stroke-width="1" stroke-linejoin="round" stroke-linecap="round" stroke-linecap="butt"/>
<polyline points="111.8,334.1 117.7,334.1" fill="none" stroke="#ff0000" stroke-width="1" stroke-linejoin="round" stroke-linecap="round" stroke-linecap="butt"/>
<polyline points="130.5,334.1 138.6,316.3" fill="none" stroke="#ff0000" stroke-width="1" stroke-linejoin="round" stroke-linecap="round" stroke-linecap="butt"/>
<polyline points="107.2,348.3 131.4,348.3 143.2,340.5 148.6,340.5" fill="none" stroke="#ff0000" stroke-width="1" stroke-linejoin="round" stroke-linecap="round" stroke-linecap="butt"/>
<polyline points="92.2,367.7 136.8,367.7" fill="none" stroke="#1414a0" stroke-width="1" stroke-linejoin="round" stroke-linecap="round" stroke-linecap="butt"/>
<polyline points="86.2,410.5 140.5,410.5" fill="none" stroke="#1414a0" stroke-width="1" stroke-linejoin="round" stroke-linecap="round" stroke-linecap="butt"/>
<polyline points="99.9,430.4 133.2,430.4 184.1,448.2" fill="none" stroke="#ae1c1c" stroke-width="1" stroke-linejoin="round" stroke-linecap="round" stroke-linecap="butt"/>
<polyline points="57.2,468.6 132.3,468.6 191.4,456.4" fill="none" stroke="#000" stroke-width="1" stroke-linejoin="round" stroke-linecap="round" stroke-linecap="butt"/>
<polyline points="57.2,480 143.2,480" fill="none" stroke="#505050" stroke-width="1" stroke-linejoin="round" stroke-linecap="round" stroke-linecap="butt"/>
<polyline points="57.2,490.5 132.3,490.5 143.2,500" fill="none" stroke="#909090" stroke-width="1" stroke-linejoin="round" stroke-linecap="round" stroke-linecap="butt"/>
<polyline points="57.2,500.3 132.3,500.3 137.7,505.5" fill="none" stroke="#c8c8c8" stroke-width="1" stroke-linejoin="round" stroke-linecap="round" stroke-linecap="butt"/>
<polyline points="57.2,509.9 137,509.9" fill="none" stroke="#80c8f4" stroke-width="1" stroke-linejoin="round" stroke-linecap="round" stroke-linecap="butt"/>
<polyline points="57.2,511.5 137,511.5" fill="none" stroke="#80c8f4" stroke-width="1" stroke-linejoin="round" stroke-linecap="round" stroke-linecap="butt"/>
<polyline points="67.4,527.3 129.5,527.3 173.2,465.1" fill="none" stroke="#ff9000" stroke-width="1" stroke-linejoin="round" stroke-linecap="round" stroke-linecap="butt"/>
<polyline points="52,556.9 140,556.9" fill="none" stroke="#80c8f4" stroke-width="1" stroke-linejoin="round" stroke-linecap="round" stroke-linecap="butt"/>
<polyline points="52,558.5 140,558.5" fill="none" stroke="#80c8f4" stroke-width="1" stroke-linejoin="round" stroke-linecap="round" stroke-linecap="butt"/>
<polyline points="49,571.3 140,571.3" fill="none" stroke="#808080" stroke-width="1" stroke-linejoin="round" stroke-linecap="round" stroke-linecap="butt"/>
<polyline points="40.3,582.2 121.6,582.2" fill="none" stroke="#505050" stroke-width="1" stroke-linejoin="round" stroke-linecap="round" stroke-linecap="butt"/>
<polyline points="130,582.2 140,582.2" fill="none" stroke="#505050" stroke-width="1" stroke-linejoin="round" stroke-linecap="round" stroke-linecap="butt"/>
<polyline points="74.3,594.1 140,594.1" fill="none" stroke="#303030" stroke-width="1" stroke-linejoin="round" stroke-linecap="round" stroke-linecap="butt"/>
<polyline points="29.9,605.5 216.5,605.5 219.1,601" fill="none" stroke="#ffb000" stroke-width="1" stroke-linejoin="round" stroke-linecap="round" stroke-linecap="butt"/>
<polyline points="139.8,623.2 148.6,623.2 157.5,611.4" fill="none" stroke="#000" stroke-width="1" stroke-linejoin="round" stroke-linecap="round" stroke-linecap="butt"/>
</svg></body></html>
